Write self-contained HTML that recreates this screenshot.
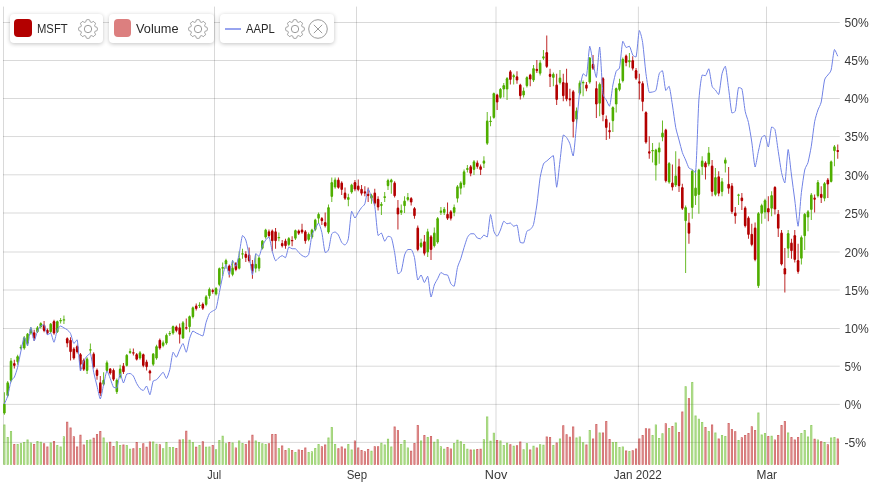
<!DOCTYPE html>
<html><head><meta charset="utf-8"><title>Chart</title>
<style>
html,body{margin:0;padding:0;background:#fff;}
body{width:872px;height:487px;position:relative;overflow:hidden;font-family:"Liberation Sans",sans-serif;}
.lg{will-change:transform;position:absolute;top:14px;height:29px;background:#fff;border-radius:4px;box-shadow:0 1px 4px rgba(0,0,0,.24);box-sizing:border-box;}
.lg span{position:absolute;top:8.2px;font-size:12.5px;color:#2a2a2a;line-height:15px;transform:scaleX(0.9);transform-origin:0 0;white-space:nowrap}
.lg i{position:absolute;display:block}
.lg .ic{position:absolute;top:2.5px}
</style></head><body>
<svg width="872" height="487" viewBox="0 0 872 487" style="position:absolute;left:0;top:0;will-change:transform">
<g stroke="rgba(0,0,0,0.15)" stroke-width="1">
<line x1="3" y1="22.50" x2="839.8" y2="22.50"/>
<line x1="3" y1="60.50" x2="839.8" y2="60.50"/>
<line x1="3" y1="98.50" x2="839.8" y2="98.50"/>
<line x1="3" y1="136.55" x2="839.8" y2="136.55"/>
<line x1="3" y1="174.80" x2="839.8" y2="174.80"/>
<line x1="3" y1="213.00" x2="839.8" y2="213.00"/>
<line x1="3" y1="252.00" x2="839.8" y2="252.00"/>
<line x1="3" y1="290.00" x2="839.8" y2="290.00"/>
<line x1="3" y1="328.50" x2="839.8" y2="328.50"/>
<line x1="3" y1="366.20" x2="839.8" y2="366.20"/>
<line x1="3" y1="404.40" x2="839.8" y2="404.40"/>
<line x1="3" y1="442.40" x2="839.8" y2="442.40"/>
<line x1="3.5" y1="6.6" x2="3.5" y2="464.7"/>
<line x1="214.5" y1="6.6" x2="214.5" y2="464.7"/>
<line x1="356.5" y1="6.6" x2="356.5" y2="464.7"/>
<line x1="496.0" y1="6.6" x2="496.0" y2="464.7"/>
<line x1="638.4" y1="6.6" x2="638.4" y2="464.7"/>
<line x1="766.5" y1="6.6" x2="766.5" y2="464.7"/>
</g>
<rect x="3.75" y="424.90" width="1.3" height="39.50" fill="#4fae00" fill-opacity="0.3" stroke="#4fae00" stroke-opacity="0.55" stroke-width="0.8"/>
<rect x="7.06" y="437.40" width="1.3" height="27.00" fill="#4fae00" fill-opacity="0.3" stroke="#4fae00" stroke-opacity="0.55" stroke-width="0.8"/>
<rect x="10.36" y="431.40" width="1.3" height="33.00" fill="#4fae00" fill-opacity="0.3" stroke="#4fae00" stroke-opacity="0.55" stroke-width="0.8"/>
<rect x="13.67" y="444.40" width="1.3" height="20.00" fill="#b30000" fill-opacity="0.3" stroke="#b30000" stroke-opacity="0.55" stroke-width="0.8"/>
<rect x="16.98" y="444.40" width="1.3" height="20.00" fill="#4fae00" fill-opacity="0.3" stroke="#4fae00" stroke-opacity="0.55" stroke-width="0.8"/>
<rect x="20.29" y="443.40" width="1.3" height="21.00" fill="#4fae00" fill-opacity="0.3" stroke="#4fae00" stroke-opacity="0.55" stroke-width="0.8"/>
<rect x="23.59" y="442.40" width="1.3" height="22.00" fill="#4fae00" fill-opacity="0.3" stroke="#4fae00" stroke-opacity="0.55" stroke-width="0.8"/>
<rect x="26.90" y="439.90" width="1.3" height="24.50" fill="#4fae00" fill-opacity="0.3" stroke="#4fae00" stroke-opacity="0.55" stroke-width="0.8"/>
<rect x="30.21" y="442.90" width="1.3" height="21.50" fill="#4fae00" fill-opacity="0.3" stroke="#4fae00" stroke-opacity="0.55" stroke-width="0.8"/>
<rect x="33.51" y="444.40" width="1.3" height="20.00" fill="#b30000" fill-opacity="0.3" stroke="#b30000" stroke-opacity="0.55" stroke-width="0.8"/>
<rect x="36.82" y="441.40" width="1.3" height="23.00" fill="#4fae00" fill-opacity="0.3" stroke="#4fae00" stroke-opacity="0.55" stroke-width="0.8"/>
<rect x="40.13" y="442.15" width="1.3" height="22.25" fill="#4fae00" fill-opacity="0.3" stroke="#4fae00" stroke-opacity="0.55" stroke-width="0.8"/>
<rect x="43.43" y="443.65" width="1.3" height="20.75" fill="#b30000" fill-opacity="0.3" stroke="#b30000" stroke-opacity="0.55" stroke-width="0.8"/>
<rect x="46.74" y="446.90" width="1.3" height="17.50" fill="#b30000" fill-opacity="0.3" stroke="#b30000" stroke-opacity="0.55" stroke-width="0.8"/>
<rect x="50.05" y="442.90" width="1.3" height="21.50" fill="#4fae00" fill-opacity="0.3" stroke="#4fae00" stroke-opacity="0.55" stroke-width="0.8"/>
<rect x="53.35" y="441.40" width="1.3" height="23.00" fill="#b30000" fill-opacity="0.3" stroke="#b30000" stroke-opacity="0.55" stroke-width="0.8"/>
<rect x="56.66" y="445.40" width="1.3" height="19.00" fill="#4fae00" fill-opacity="0.3" stroke="#4fae00" stroke-opacity="0.55" stroke-width="0.8"/>
<rect x="59.97" y="446.90" width="1.3" height="17.50" fill="#4fae00" fill-opacity="0.3" stroke="#4fae00" stroke-opacity="0.55" stroke-width="0.8"/>
<rect x="63.28" y="436.65" width="1.3" height="27.75" fill="#4fae00" fill-opacity="0.3" stroke="#4fae00" stroke-opacity="0.55" stroke-width="0.8"/>
<rect x="66.58" y="422.15" width="1.3" height="42.25" fill="#b30000" fill-opacity="0.3" stroke="#b30000" stroke-opacity="0.55" stroke-width="0.8"/>
<rect x="69.89" y="427.90" width="1.3" height="36.50" fill="#b30000" fill-opacity="0.3" stroke="#b30000" stroke-opacity="0.55" stroke-width="0.8"/>
<rect x="73.20" y="436.65" width="1.3" height="27.75" fill="#b30000" fill-opacity="0.3" stroke="#b30000" stroke-opacity="0.55" stroke-width="0.8"/>
<rect x="76.50" y="446.90" width="1.3" height="17.50" fill="#b30000" fill-opacity="0.3" stroke="#b30000" stroke-opacity="0.55" stroke-width="0.8"/>
<rect x="79.81" y="435.15" width="1.3" height="29.25" fill="#b30000" fill-opacity="0.3" stroke="#b30000" stroke-opacity="0.55" stroke-width="0.8"/>
<rect x="83.12" y="444.90" width="1.3" height="19.50" fill="#b30000" fill-opacity="0.3" stroke="#b30000" stroke-opacity="0.55" stroke-width="0.8"/>
<rect x="86.42" y="440.40" width="1.3" height="24.00" fill="#4fae00" fill-opacity="0.3" stroke="#4fae00" stroke-opacity="0.55" stroke-width="0.8"/>
<rect x="89.73" y="439.90" width="1.3" height="24.50" fill="#4fae00" fill-opacity="0.3" stroke="#4fae00" stroke-opacity="0.55" stroke-width="0.8"/>
<rect x="93.04" y="438.15" width="1.3" height="26.25" fill="#b30000" fill-opacity="0.3" stroke="#b30000" stroke-opacity="0.55" stroke-width="0.8"/>
<rect x="96.35" y="434.40" width="1.3" height="30.00" fill="#b30000" fill-opacity="0.3" stroke="#b30000" stroke-opacity="0.55" stroke-width="0.8"/>
<rect x="99.65" y="431.40" width="1.3" height="33.00" fill="#b30000" fill-opacity="0.3" stroke="#b30000" stroke-opacity="0.55" stroke-width="0.8"/>
<rect x="102.96" y="437.90" width="1.3" height="26.50" fill="#4fae00" fill-opacity="0.3" stroke="#4fae00" stroke-opacity="0.55" stroke-width="0.8"/>
<rect x="106.27" y="442.90" width="1.3" height="21.50" fill="#4fae00" fill-opacity="0.3" stroke="#4fae00" stroke-opacity="0.55" stroke-width="0.8"/>
<rect x="109.57" y="442.15" width="1.3" height="22.25" fill="#b30000" fill-opacity="0.3" stroke="#b30000" stroke-opacity="0.55" stroke-width="0.8"/>
<rect x="112.88" y="446.40" width="1.3" height="18.00" fill="#b30000" fill-opacity="0.3" stroke="#b30000" stroke-opacity="0.55" stroke-width="0.8"/>
<rect x="116.19" y="441.65" width="1.3" height="22.75" fill="#4fae00" fill-opacity="0.3" stroke="#4fae00" stroke-opacity="0.55" stroke-width="0.8"/>
<rect x="119.50" y="445.40" width="1.3" height="19.00" fill="#4fae00" fill-opacity="0.3" stroke="#4fae00" stroke-opacity="0.55" stroke-width="0.8"/>
<rect x="122.80" y="444.90" width="1.3" height="19.50" fill="#b30000" fill-opacity="0.3" stroke="#b30000" stroke-opacity="0.55" stroke-width="0.8"/>
<rect x="126.11" y="445.40" width="1.3" height="19.00" fill="#4fae00" fill-opacity="0.3" stroke="#4fae00" stroke-opacity="0.55" stroke-width="0.8"/>
<rect x="129.42" y="449.15" width="1.3" height="15.25" fill="#4fae00" fill-opacity="0.3" stroke="#4fae00" stroke-opacity="0.55" stroke-width="0.8"/>
<rect x="132.72" y="448.65" width="1.3" height="15.75" fill="#b30000" fill-opacity="0.3" stroke="#b30000" stroke-opacity="0.55" stroke-width="0.8"/>
<rect x="136.03" y="442.40" width="1.3" height="22.00" fill="#b30000" fill-opacity="0.3" stroke="#b30000" stroke-opacity="0.55" stroke-width="0.8"/>
<rect x="139.34" y="448.40" width="1.3" height="16.00" fill="#4fae00" fill-opacity="0.3" stroke="#4fae00" stroke-opacity="0.55" stroke-width="0.8"/>
<rect x="142.64" y="443.65" width="1.3" height="20.75" fill="#b30000" fill-opacity="0.3" stroke="#b30000" stroke-opacity="0.55" stroke-width="0.8"/>
<rect x="145.95" y="447.15" width="1.3" height="17.25" fill="#b30000" fill-opacity="0.3" stroke="#b30000" stroke-opacity="0.55" stroke-width="0.8"/>
<rect x="149.26" y="441.90" width="1.3" height="22.50" fill="#b30000" fill-opacity="0.3" stroke="#b30000" stroke-opacity="0.55" stroke-width="0.8"/>
<rect x="152.56" y="441.90" width="1.3" height="22.50" fill="#4fae00" fill-opacity="0.3" stroke="#4fae00" stroke-opacity="0.55" stroke-width="0.8"/>
<rect x="155.87" y="444.15" width="1.3" height="20.25" fill="#4fae00" fill-opacity="0.3" stroke="#4fae00" stroke-opacity="0.55" stroke-width="0.8"/>
<rect x="159.18" y="444.65" width="1.3" height="19.75" fill="#b30000" fill-opacity="0.3" stroke="#b30000" stroke-opacity="0.55" stroke-width="0.8"/>
<rect x="162.49" y="448.65" width="1.3" height="15.75" fill="#4fae00" fill-opacity="0.3" stroke="#4fae00" stroke-opacity="0.55" stroke-width="0.8"/>
<rect x="165.79" y="442.40" width="1.3" height="22.00" fill="#4fae00" fill-opacity="0.3" stroke="#4fae00" stroke-opacity="0.55" stroke-width="0.8"/>
<rect x="169.10" y="447.40" width="1.3" height="17.00" fill="#4fae00" fill-opacity="0.3" stroke="#4fae00" stroke-opacity="0.55" stroke-width="0.8"/>
<rect x="172.41" y="447.40" width="1.3" height="17.00" fill="#4fae00" fill-opacity="0.3" stroke="#4fae00" stroke-opacity="0.55" stroke-width="0.8"/>
<rect x="175.71" y="448.40" width="1.3" height="16.00" fill="#b30000" fill-opacity="0.3" stroke="#b30000" stroke-opacity="0.55" stroke-width="0.8"/>
<rect x="179.02" y="439.90" width="1.3" height="24.50" fill="#b30000" fill-opacity="0.3" stroke="#b30000" stroke-opacity="0.55" stroke-width="0.8"/>
<rect x="182.33" y="439.65" width="1.3" height="24.75" fill="#4fae00" fill-opacity="0.3" stroke="#4fae00" stroke-opacity="0.55" stroke-width="0.8"/>
<rect x="185.63" y="431.15" width="1.3" height="33.25" fill="#b30000" fill-opacity="0.3" stroke="#b30000" stroke-opacity="0.55" stroke-width="0.8"/>
<rect x="188.94" y="440.15" width="1.3" height="24.25" fill="#4fae00" fill-opacity="0.3" stroke="#4fae00" stroke-opacity="0.55" stroke-width="0.8"/>
<rect x="192.25" y="442.40" width="1.3" height="22.00" fill="#4fae00" fill-opacity="0.3" stroke="#4fae00" stroke-opacity="0.55" stroke-width="0.8"/>
<rect x="195.56" y="447.15" width="1.3" height="17.25" fill="#b30000" fill-opacity="0.3" stroke="#b30000" stroke-opacity="0.55" stroke-width="0.8"/>
<rect x="198.86" y="445.40" width="1.3" height="19.00" fill="#4fae00" fill-opacity="0.3" stroke="#4fae00" stroke-opacity="0.55" stroke-width="0.8"/>
<rect x="202.17" y="441.65" width="1.3" height="22.75" fill="#b30000" fill-opacity="0.3" stroke="#b30000" stroke-opacity="0.55" stroke-width="0.8"/>
<rect x="205.48" y="447.15" width="1.3" height="17.25" fill="#4fae00" fill-opacity="0.3" stroke="#4fae00" stroke-opacity="0.55" stroke-width="0.8"/>
<rect x="208.78" y="446.90" width="1.3" height="17.50" fill="#4fae00" fill-opacity="0.3" stroke="#4fae00" stroke-opacity="0.55" stroke-width="0.8"/>
<rect x="212.09" y="445.40" width="1.3" height="19.00" fill="#b30000" fill-opacity="0.3" stroke="#b30000" stroke-opacity="0.55" stroke-width="0.8"/>
<rect x="215.40" y="449.65" width="1.3" height="14.75" fill="#4fae00" fill-opacity="0.3" stroke="#4fae00" stroke-opacity="0.55" stroke-width="0.8"/>
<rect x="218.70" y="440.40" width="1.3" height="24.00" fill="#4fae00" fill-opacity="0.3" stroke="#4fae00" stroke-opacity="0.55" stroke-width="0.8"/>
<rect x="222.01" y="436.15" width="1.3" height="28.25" fill="#4fae00" fill-opacity="0.3" stroke="#4fae00" stroke-opacity="0.55" stroke-width="0.8"/>
<rect x="225.32" y="443.65" width="1.3" height="20.75" fill="#4fae00" fill-opacity="0.3" stroke="#4fae00" stroke-opacity="0.55" stroke-width="0.8"/>
<rect x="228.63" y="442.40" width="1.3" height="22.00" fill="#b30000" fill-opacity="0.3" stroke="#b30000" stroke-opacity="0.55" stroke-width="0.8"/>
<rect x="231.93" y="442.90" width="1.3" height="21.50" fill="#4fae00" fill-opacity="0.3" stroke="#4fae00" stroke-opacity="0.55" stroke-width="0.8"/>
<rect x="235.24" y="447.90" width="1.3" height="16.50" fill="#b30000" fill-opacity="0.3" stroke="#b30000" stroke-opacity="0.55" stroke-width="0.8"/>
<rect x="238.55" y="440.90" width="1.3" height="23.50" fill="#4fae00" fill-opacity="0.3" stroke="#4fae00" stroke-opacity="0.55" stroke-width="0.8"/>
<rect x="241.85" y="443.40" width="1.3" height="21.00" fill="#4fae00" fill-opacity="0.3" stroke="#4fae00" stroke-opacity="0.55" stroke-width="0.8"/>
<rect x="245.16" y="444.40" width="1.3" height="20.00" fill="#b30000" fill-opacity="0.3" stroke="#b30000" stroke-opacity="0.55" stroke-width="0.8"/>
<rect x="248.47" y="440.90" width="1.3" height="23.50" fill="#b30000" fill-opacity="0.3" stroke="#b30000" stroke-opacity="0.55" stroke-width="0.8"/>
<rect x="251.78" y="435.15" width="1.3" height="29.25" fill="#b30000" fill-opacity="0.3" stroke="#b30000" stroke-opacity="0.55" stroke-width="0.8"/>
<rect x="255.08" y="440.90" width="1.3" height="23.50" fill="#4fae00" fill-opacity="0.3" stroke="#4fae00" stroke-opacity="0.55" stroke-width="0.8"/>
<rect x="258.39" y="442.40" width="1.3" height="22.00" fill="#4fae00" fill-opacity="0.3" stroke="#4fae00" stroke-opacity="0.55" stroke-width="0.8"/>
<rect x="261.70" y="443.65" width="1.3" height="20.75" fill="#4fae00" fill-opacity="0.3" stroke="#4fae00" stroke-opacity="0.55" stroke-width="0.8"/>
<rect x="265.00" y="444.40" width="1.3" height="20.00" fill="#4fae00" fill-opacity="0.3" stroke="#4fae00" stroke-opacity="0.55" stroke-width="0.8"/>
<rect x="268.31" y="443.65" width="1.3" height="20.75" fill="#b30000" fill-opacity="0.3" stroke="#b30000" stroke-opacity="0.55" stroke-width="0.8"/>
<rect x="271.62" y="434.40" width="1.3" height="30.00" fill="#b30000" fill-opacity="0.3" stroke="#b30000" stroke-opacity="0.55" stroke-width="0.8"/>
<rect x="274.92" y="434.40" width="1.3" height="30.00" fill="#b30000" fill-opacity="0.3" stroke="#b30000" stroke-opacity="0.55" stroke-width="0.8"/>
<rect x="278.23" y="448.40" width="1.3" height="16.00" fill="#4fae00" fill-opacity="0.3" stroke="#4fae00" stroke-opacity="0.55" stroke-width="0.8"/>
<rect x="281.54" y="445.90" width="1.3" height="18.50" fill="#b30000" fill-opacity="0.3" stroke="#b30000" stroke-opacity="0.55" stroke-width="0.8"/>
<rect x="284.84" y="450.40" width="1.3" height="14.00" fill="#b30000" fill-opacity="0.3" stroke="#b30000" stroke-opacity="0.55" stroke-width="0.8"/>
<rect x="288.15" y="448.65" width="1.3" height="15.75" fill="#4fae00" fill-opacity="0.3" stroke="#4fae00" stroke-opacity="0.55" stroke-width="0.8"/>
<rect x="291.46" y="450.40" width="1.3" height="14.00" fill="#b30000" fill-opacity="0.3" stroke="#b30000" stroke-opacity="0.55" stroke-width="0.8"/>
<rect x="294.77" y="452.40" width="1.3" height="12.00" fill="#4fae00" fill-opacity="0.3" stroke="#4fae00" stroke-opacity="0.55" stroke-width="0.8"/>
<rect x="298.07" y="449.90" width="1.3" height="14.50" fill="#b30000" fill-opacity="0.3" stroke="#b30000" stroke-opacity="0.55" stroke-width="0.8"/>
<rect x="301.38" y="450.40" width="1.3" height="14.00" fill="#b30000" fill-opacity="0.3" stroke="#b30000" stroke-opacity="0.55" stroke-width="0.8"/>
<rect x="304.69" y="447.90" width="1.3" height="16.50" fill="#b30000" fill-opacity="0.3" stroke="#b30000" stroke-opacity="0.55" stroke-width="0.8"/>
<rect x="307.99" y="452.40" width="1.3" height="12.00" fill="#4fae00" fill-opacity="0.3" stroke="#4fae00" stroke-opacity="0.55" stroke-width="0.8"/>
<rect x="311.30" y="451.65" width="1.3" height="12.75" fill="#4fae00" fill-opacity="0.3" stroke="#4fae00" stroke-opacity="0.55" stroke-width="0.8"/>
<rect x="314.61" y="448.40" width="1.3" height="16.00" fill="#4fae00" fill-opacity="0.3" stroke="#4fae00" stroke-opacity="0.55" stroke-width="0.8"/>
<rect x="317.92" y="444.40" width="1.3" height="20.00" fill="#4fae00" fill-opacity="0.3" stroke="#4fae00" stroke-opacity="0.55" stroke-width="0.8"/>
<rect x="321.22" y="446.65" width="1.3" height="17.75" fill="#b30000" fill-opacity="0.3" stroke="#b30000" stroke-opacity="0.55" stroke-width="0.8"/>
<rect x="324.53" y="444.90" width="1.3" height="19.50" fill="#b30000" fill-opacity="0.3" stroke="#b30000" stroke-opacity="0.55" stroke-width="0.8"/>
<rect x="327.84" y="437.90" width="1.3" height="26.50" fill="#4fae00" fill-opacity="0.3" stroke="#4fae00" stroke-opacity="0.55" stroke-width="0.8"/>
<rect x="331.14" y="427.40" width="1.3" height="37.00" fill="#4fae00" fill-opacity="0.3" stroke="#4fae00" stroke-opacity="0.55" stroke-width="0.8"/>
<rect x="334.45" y="444.40" width="1.3" height="20.00" fill="#4fae00" fill-opacity="0.3" stroke="#4fae00" stroke-opacity="0.55" stroke-width="0.8"/>
<rect x="337.76" y="448.65" width="1.3" height="15.75" fill="#b30000" fill-opacity="0.3" stroke="#b30000" stroke-opacity="0.55" stroke-width="0.8"/>
<rect x="341.06" y="446.90" width="1.3" height="17.50" fill="#b30000" fill-opacity="0.3" stroke="#b30000" stroke-opacity="0.55" stroke-width="0.8"/>
<rect x="344.37" y="448.90" width="1.3" height="15.50" fill="#b30000" fill-opacity="0.3" stroke="#b30000" stroke-opacity="0.55" stroke-width="0.8"/>
<rect x="347.68" y="444.40" width="1.3" height="20.00" fill="#4fae00" fill-opacity="0.3" stroke="#4fae00" stroke-opacity="0.55" stroke-width="0.8"/>
<rect x="350.99" y="449.90" width="1.3" height="14.50" fill="#4fae00" fill-opacity="0.3" stroke="#4fae00" stroke-opacity="0.55" stroke-width="0.8"/>
<rect x="354.29" y="440.90" width="1.3" height="23.50" fill="#b30000" fill-opacity="0.3" stroke="#b30000" stroke-opacity="0.55" stroke-width="0.8"/>
<rect x="357.60" y="447.90" width="1.3" height="16.50" fill="#b30000" fill-opacity="0.3" stroke="#b30000" stroke-opacity="0.55" stroke-width="0.8"/>
<rect x="360.91" y="450.40" width="1.3" height="14.00" fill="#b30000" fill-opacity="0.3" stroke="#b30000" stroke-opacity="0.55" stroke-width="0.8"/>
<rect x="364.21" y="451.65" width="1.3" height="12.75" fill="#b30000" fill-opacity="0.3" stroke="#b30000" stroke-opacity="0.55" stroke-width="0.8"/>
<rect x="367.52" y="449.40" width="1.3" height="15.00" fill="#b30000" fill-opacity="0.3" stroke="#b30000" stroke-opacity="0.55" stroke-width="0.8"/>
<rect x="370.83" y="451.15" width="1.3" height="13.25" fill="#4fae00" fill-opacity="0.3" stroke="#4fae00" stroke-opacity="0.55" stroke-width="0.8"/>
<rect x="374.13" y="446.65" width="1.3" height="17.75" fill="#b30000" fill-opacity="0.3" stroke="#b30000" stroke-opacity="0.55" stroke-width="0.8"/>
<rect x="377.44" y="446.65" width="1.3" height="17.75" fill="#b30000" fill-opacity="0.3" stroke="#b30000" stroke-opacity="0.55" stroke-width="0.8"/>
<rect x="380.75" y="443.15" width="1.3" height="21.25" fill="#4fae00" fill-opacity="0.3" stroke="#4fae00" stroke-opacity="0.55" stroke-width="0.8"/>
<rect x="384.06" y="444.90" width="1.3" height="19.50" fill="#4fae00" fill-opacity="0.3" stroke="#4fae00" stroke-opacity="0.55" stroke-width="0.8"/>
<rect x="387.36" y="439.15" width="1.3" height="25.25" fill="#4fae00" fill-opacity="0.3" stroke="#4fae00" stroke-opacity="0.55" stroke-width="0.8"/>
<rect x="390.67" y="446.90" width="1.3" height="17.50" fill="#4fae00" fill-opacity="0.3" stroke="#4fae00" stroke-opacity="0.55" stroke-width="0.8"/>
<rect x="393.98" y="426.90" width="1.3" height="37.50" fill="#b30000" fill-opacity="0.3" stroke="#b30000" stroke-opacity="0.55" stroke-width="0.8"/>
<rect x="397.28" y="430.40" width="1.3" height="34.00" fill="#b30000" fill-opacity="0.3" stroke="#b30000" stroke-opacity="0.55" stroke-width="0.8"/>
<rect x="400.59" y="444.40" width="1.3" height="20.00" fill="#4fae00" fill-opacity="0.3" stroke="#4fae00" stroke-opacity="0.55" stroke-width="0.8"/>
<rect x="403.90" y="440.40" width="1.3" height="24.00" fill="#4fae00" fill-opacity="0.3" stroke="#4fae00" stroke-opacity="0.55" stroke-width="0.8"/>
<rect x="407.20" y="447.90" width="1.3" height="16.50" fill="#4fae00" fill-opacity="0.3" stroke="#4fae00" stroke-opacity="0.55" stroke-width="0.8"/>
<rect x="410.51" y="451.15" width="1.3" height="13.25" fill="#b30000" fill-opacity="0.3" stroke="#b30000" stroke-opacity="0.55" stroke-width="0.8"/>
<rect x="413.82" y="443.40" width="1.3" height="21.00" fill="#b30000" fill-opacity="0.3" stroke="#b30000" stroke-opacity="0.55" stroke-width="0.8"/>
<rect x="417.12" y="425.40" width="1.3" height="39.00" fill="#b30000" fill-opacity="0.3" stroke="#b30000" stroke-opacity="0.55" stroke-width="0.8"/>
<rect x="420.43" y="440.90" width="1.3" height="23.50" fill="#4fae00" fill-opacity="0.3" stroke="#4fae00" stroke-opacity="0.55" stroke-width="0.8"/>
<rect x="423.74" y="435.40" width="1.3" height="29.00" fill="#b30000" fill-opacity="0.3" stroke="#b30000" stroke-opacity="0.55" stroke-width="0.8"/>
<rect x="427.05" y="437.40" width="1.3" height="27.00" fill="#4fae00" fill-opacity="0.3" stroke="#4fae00" stroke-opacity="0.55" stroke-width="0.8"/>
<rect x="430.35" y="436.40" width="1.3" height="28.00" fill="#b30000" fill-opacity="0.3" stroke="#b30000" stroke-opacity="0.55" stroke-width="0.8"/>
<rect x="433.66" y="442.15" width="1.3" height="22.25" fill="#4fae00" fill-opacity="0.3" stroke="#4fae00" stroke-opacity="0.55" stroke-width="0.8"/>
<rect x="436.97" y="439.65" width="1.3" height="24.75" fill="#4fae00" fill-opacity="0.3" stroke="#4fae00" stroke-opacity="0.55" stroke-width="0.8"/>
<rect x="440.27" y="446.65" width="1.3" height="17.75" fill="#4fae00" fill-opacity="0.3" stroke="#4fae00" stroke-opacity="0.55" stroke-width="0.8"/>
<rect x="443.58" y="449.15" width="1.3" height="15.25" fill="#4fae00" fill-opacity="0.3" stroke="#4fae00" stroke-opacity="0.55" stroke-width="0.8"/>
<rect x="446.89" y="447.40" width="1.3" height="17.00" fill="#b30000" fill-opacity="0.3" stroke="#b30000" stroke-opacity="0.55" stroke-width="0.8"/>
<rect x="450.19" y="448.90" width="1.3" height="15.50" fill="#b30000" fill-opacity="0.3" stroke="#b30000" stroke-opacity="0.55" stroke-width="0.8"/>
<rect x="453.50" y="443.40" width="1.3" height="21.00" fill="#4fae00" fill-opacity="0.3" stroke="#4fae00" stroke-opacity="0.55" stroke-width="0.8"/>
<rect x="456.81" y="440.15" width="1.3" height="24.25" fill="#4fae00" fill-opacity="0.3" stroke="#4fae00" stroke-opacity="0.55" stroke-width="0.8"/>
<rect x="460.12" y="441.65" width="1.3" height="22.75" fill="#4fae00" fill-opacity="0.3" stroke="#4fae00" stroke-opacity="0.55" stroke-width="0.8"/>
<rect x="463.42" y="444.40" width="1.3" height="20.00" fill="#4fae00" fill-opacity="0.3" stroke="#4fae00" stroke-opacity="0.55" stroke-width="0.8"/>
<rect x="466.73" y="449.15" width="1.3" height="15.25" fill="#4fae00" fill-opacity="0.3" stroke="#4fae00" stroke-opacity="0.55" stroke-width="0.8"/>
<rect x="470.04" y="449.90" width="1.3" height="14.50" fill="#b30000" fill-opacity="0.3" stroke="#b30000" stroke-opacity="0.55" stroke-width="0.8"/>
<rect x="473.34" y="449.90" width="1.3" height="14.50" fill="#4fae00" fill-opacity="0.3" stroke="#4fae00" stroke-opacity="0.55" stroke-width="0.8"/>
<rect x="476.65" y="449.40" width="1.3" height="15.00" fill="#b30000" fill-opacity="0.3" stroke="#b30000" stroke-opacity="0.55" stroke-width="0.8"/>
<rect x="479.96" y="449.15" width="1.3" height="15.25" fill="#b30000" fill-opacity="0.3" stroke="#b30000" stroke-opacity="0.55" stroke-width="0.8"/>
<rect x="483.26" y="439.65" width="1.3" height="24.75" fill="#4fae00" fill-opacity="0.3" stroke="#4fae00" stroke-opacity="0.55" stroke-width="0.8"/>
<rect x="486.57" y="416.90" width="1.3" height="47.50" fill="#4fae00" fill-opacity="0.3" stroke="#4fae00" stroke-opacity="0.55" stroke-width="0.8"/>
<rect x="489.88" y="441.15" width="1.3" height="23.25" fill="#4fae00" fill-opacity="0.3" stroke="#4fae00" stroke-opacity="0.55" stroke-width="0.8"/>
<rect x="493.19" y="433.15" width="1.3" height="31.25" fill="#4fae00" fill-opacity="0.3" stroke="#4fae00" stroke-opacity="0.55" stroke-width="0.8"/>
<rect x="496.49" y="440.40" width="1.3" height="24.00" fill="#b30000" fill-opacity="0.3" stroke="#b30000" stroke-opacity="0.55" stroke-width="0.8"/>
<rect x="499.80" y="440.90" width="1.3" height="23.50" fill="#4fae00" fill-opacity="0.3" stroke="#4fae00" stroke-opacity="0.55" stroke-width="0.8"/>
<rect x="503.11" y="445.40" width="1.3" height="19.00" fill="#4fae00" fill-opacity="0.3" stroke="#4fae00" stroke-opacity="0.55" stroke-width="0.8"/>
<rect x="506.41" y="443.15" width="1.3" height="21.25" fill="#4fae00" fill-opacity="0.3" stroke="#4fae00" stroke-opacity="0.55" stroke-width="0.8"/>
<rect x="509.72" y="444.65" width="1.3" height="19.75" fill="#b30000" fill-opacity="0.3" stroke="#b30000" stroke-opacity="0.55" stroke-width="0.8"/>
<rect x="513.03" y="446.15" width="1.3" height="18.25" fill="#4fae00" fill-opacity="0.3" stroke="#4fae00" stroke-opacity="0.55" stroke-width="0.8"/>
<rect x="516.34" y="445.65" width="1.3" height="18.75" fill="#b30000" fill-opacity="0.3" stroke="#b30000" stroke-opacity="0.55" stroke-width="0.8"/>
<rect x="519.64" y="441.90" width="1.3" height="22.50" fill="#b30000" fill-opacity="0.3" stroke="#b30000" stroke-opacity="0.55" stroke-width="0.8"/>
<rect x="522.95" y="449.65" width="1.3" height="14.75" fill="#4fae00" fill-opacity="0.3" stroke="#4fae00" stroke-opacity="0.55" stroke-width="0.8"/>
<rect x="526.26" y="443.40" width="1.3" height="21.00" fill="#4fae00" fill-opacity="0.3" stroke="#4fae00" stroke-opacity="0.55" stroke-width="0.8"/>
<rect x="529.56" y="449.90" width="1.3" height="14.50" fill="#b30000" fill-opacity="0.3" stroke="#b30000" stroke-opacity="0.55" stroke-width="0.8"/>
<rect x="532.87" y="446.15" width="1.3" height="18.25" fill="#4fae00" fill-opacity="0.3" stroke="#4fae00" stroke-opacity="0.55" stroke-width="0.8"/>
<rect x="536.18" y="447.90" width="1.3" height="16.50" fill="#b30000" fill-opacity="0.3" stroke="#b30000" stroke-opacity="0.55" stroke-width="0.8"/>
<rect x="539.48" y="444.65" width="1.3" height="19.75" fill="#4fae00" fill-opacity="0.3" stroke="#4fae00" stroke-opacity="0.55" stroke-width="0.8"/>
<rect x="542.79" y="445.15" width="1.3" height="19.25" fill="#4fae00" fill-opacity="0.3" stroke="#4fae00" stroke-opacity="0.55" stroke-width="0.8"/>
<rect x="546.10" y="436.90" width="1.3" height="27.50" fill="#b30000" fill-opacity="0.3" stroke="#b30000" stroke-opacity="0.55" stroke-width="0.8"/>
<rect x="549.40" y="437.40" width="1.3" height="27.00" fill="#b30000" fill-opacity="0.3" stroke="#b30000" stroke-opacity="0.55" stroke-width="0.8"/>
<rect x="552.71" y="445.40" width="1.3" height="19.00" fill="#4fae00" fill-opacity="0.3" stroke="#4fae00" stroke-opacity="0.55" stroke-width="0.8"/>
<rect x="556.02" y="442.90" width="1.3" height="21.50" fill="#b30000" fill-opacity="0.3" stroke="#b30000" stroke-opacity="0.55" stroke-width="0.8"/>
<rect x="559.33" y="438.90" width="1.3" height="25.50" fill="#4fae00" fill-opacity="0.3" stroke="#4fae00" stroke-opacity="0.55" stroke-width="0.8"/>
<rect x="562.63" y="425.65" width="1.3" height="38.75" fill="#b30000" fill-opacity="0.3" stroke="#b30000" stroke-opacity="0.55" stroke-width="0.8"/>
<rect x="565.94" y="434.65" width="1.3" height="29.75" fill="#b30000" fill-opacity="0.3" stroke="#b30000" stroke-opacity="0.55" stroke-width="0.8"/>
<rect x="569.25" y="437.15" width="1.3" height="27.25" fill="#b30000" fill-opacity="0.3" stroke="#b30000" stroke-opacity="0.55" stroke-width="0.8"/>
<rect x="572.55" y="426.90" width="1.3" height="37.50" fill="#b30000" fill-opacity="0.3" stroke="#b30000" stroke-opacity="0.55" stroke-width="0.8"/>
<rect x="575.86" y="437.90" width="1.3" height="26.50" fill="#4fae00" fill-opacity="0.3" stroke="#4fae00" stroke-opacity="0.55" stroke-width="0.8"/>
<rect x="579.17" y="436.90" width="1.3" height="27.50" fill="#4fae00" fill-opacity="0.3" stroke="#4fae00" stroke-opacity="0.55" stroke-width="0.8"/>
<rect x="582.48" y="442.65" width="1.3" height="21.75" fill="#4fae00" fill-opacity="0.3" stroke="#4fae00" stroke-opacity="0.55" stroke-width="0.8"/>
<rect x="585.78" y="444.90" width="1.3" height="19.50" fill="#b30000" fill-opacity="0.3" stroke="#b30000" stroke-opacity="0.55" stroke-width="0.8"/>
<rect x="589.09" y="430.40" width="1.3" height="34.00" fill="#4fae00" fill-opacity="0.3" stroke="#4fae00" stroke-opacity="0.55" stroke-width="0.8"/>
<rect x="592.40" y="438.90" width="1.3" height="25.50" fill="#b30000" fill-opacity="0.3" stroke="#b30000" stroke-opacity="0.55" stroke-width="0.8"/>
<rect x="595.70" y="424.40" width="1.3" height="40.00" fill="#b30000" fill-opacity="0.3" stroke="#b30000" stroke-opacity="0.55" stroke-width="0.8"/>
<rect x="599.01" y="432.90" width="1.3" height="31.50" fill="#4fae00" fill-opacity="0.3" stroke="#4fae00" stroke-opacity="0.55" stroke-width="0.8"/>
<rect x="602.32" y="432.90" width="1.3" height="31.50" fill="#b30000" fill-opacity="0.3" stroke="#b30000" stroke-opacity="0.55" stroke-width="0.8"/>
<rect x="605.62" y="421.40" width="1.3" height="43.00" fill="#b30000" fill-opacity="0.3" stroke="#b30000" stroke-opacity="0.55" stroke-width="0.8"/>
<rect x="608.93" y="439.40" width="1.3" height="25.00" fill="#b30000" fill-opacity="0.3" stroke="#b30000" stroke-opacity="0.55" stroke-width="0.8"/>
<rect x="612.24" y="442.40" width="1.3" height="22.00" fill="#4fae00" fill-opacity="0.3" stroke="#4fae00" stroke-opacity="0.55" stroke-width="0.8"/>
<rect x="615.54" y="442.40" width="1.3" height="22.00" fill="#4fae00" fill-opacity="0.3" stroke="#4fae00" stroke-opacity="0.55" stroke-width="0.8"/>
<rect x="618.85" y="447.40" width="1.3" height="17.00" fill="#4fae00" fill-opacity="0.3" stroke="#4fae00" stroke-opacity="0.55" stroke-width="0.8"/>
<rect x="622.16" y="446.90" width="1.3" height="17.50" fill="#4fae00" fill-opacity="0.3" stroke="#4fae00" stroke-opacity="0.55" stroke-width="0.8"/>
<rect x="625.47" y="450.90" width="1.3" height="13.50" fill="#b30000" fill-opacity="0.3" stroke="#b30000" stroke-opacity="0.55" stroke-width="0.8"/>
<rect x="628.77" y="451.40" width="1.3" height="13.00" fill="#4fae00" fill-opacity="0.3" stroke="#4fae00" stroke-opacity="0.55" stroke-width="0.8"/>
<rect x="632.08" y="450.65" width="1.3" height="13.75" fill="#b30000" fill-opacity="0.3" stroke="#b30000" stroke-opacity="0.55" stroke-width="0.8"/>
<rect x="635.39" y="448.90" width="1.3" height="15.50" fill="#b30000" fill-opacity="0.3" stroke="#b30000" stroke-opacity="0.55" stroke-width="0.8"/>
<rect x="638.69" y="438.90" width="1.3" height="25.50" fill="#b30000" fill-opacity="0.3" stroke="#b30000" stroke-opacity="0.55" stroke-width="0.8"/>
<rect x="642.00" y="435.40" width="1.3" height="29.00" fill="#b30000" fill-opacity="0.3" stroke="#b30000" stroke-opacity="0.55" stroke-width="0.8"/>
<rect x="645.31" y="428.65" width="1.3" height="35.75" fill="#b30000" fill-opacity="0.3" stroke="#b30000" stroke-opacity="0.55" stroke-width="0.8"/>
<rect x="648.62" y="428.90" width="1.3" height="35.50" fill="#b30000" fill-opacity="0.3" stroke="#b30000" stroke-opacity="0.55" stroke-width="0.8"/>
<rect x="651.92" y="435.40" width="1.3" height="29.00" fill="#4fae00" fill-opacity="0.3" stroke="#4fae00" stroke-opacity="0.55" stroke-width="0.8"/>
<rect x="655.23" y="424.90" width="1.3" height="39.50" fill="#4fae00" fill-opacity="0.3" stroke="#4fae00" stroke-opacity="0.55" stroke-width="0.8"/>
<rect x="658.54" y="438.40" width="1.3" height="26.00" fill="#4fae00" fill-opacity="0.3" stroke="#4fae00" stroke-opacity="0.55" stroke-width="0.8"/>
<rect x="661.84" y="433.65" width="1.3" height="30.75" fill="#4fae00" fill-opacity="0.3" stroke="#4fae00" stroke-opacity="0.55" stroke-width="0.8"/>
<rect x="665.15" y="423.65" width="1.3" height="40.75" fill="#b30000" fill-opacity="0.3" stroke="#b30000" stroke-opacity="0.55" stroke-width="0.8"/>
<rect x="668.46" y="428.40" width="1.3" height="36.00" fill="#4fae00" fill-opacity="0.3" stroke="#4fae00" stroke-opacity="0.55" stroke-width="0.8"/>
<rect x="671.76" y="426.40" width="1.3" height="38.00" fill="#b30000" fill-opacity="0.3" stroke="#b30000" stroke-opacity="0.55" stroke-width="0.8"/>
<rect x="675.07" y="422.90" width="1.3" height="41.50" fill="#4fae00" fill-opacity="0.3" stroke="#4fae00" stroke-opacity="0.55" stroke-width="0.8"/>
<rect x="678.38" y="432.40" width="1.3" height="32.00" fill="#b30000" fill-opacity="0.3" stroke="#b30000" stroke-opacity="0.55" stroke-width="0.8"/>
<rect x="681.68" y="411.90" width="1.3" height="52.50" fill="#b30000" fill-opacity="0.3" stroke="#b30000" stroke-opacity="0.55" stroke-width="0.8"/>
<rect x="684.99" y="386.65" width="1.3" height="77.75" fill="#4fae00" fill-opacity="0.3" stroke="#4fae00" stroke-opacity="0.55" stroke-width="0.8"/>
<rect x="688.30" y="398.40" width="1.3" height="66.00" fill="#b30000" fill-opacity="0.3" stroke="#b30000" stroke-opacity="0.55" stroke-width="0.8"/>
<rect x="691.61" y="382.40" width="1.3" height="82.00" fill="#4fae00" fill-opacity="0.3" stroke="#4fae00" stroke-opacity="0.55" stroke-width="0.8"/>
<rect x="694.91" y="415.90" width="1.3" height="48.50" fill="#4fae00" fill-opacity="0.3" stroke="#4fae00" stroke-opacity="0.55" stroke-width="0.8"/>
<rect x="698.22" y="419.15" width="1.3" height="45.25" fill="#4fae00" fill-opacity="0.3" stroke="#4fae00" stroke-opacity="0.55" stroke-width="0.8"/>
<rect x="701.53" y="422.40" width="1.3" height="42.00" fill="#4fae00" fill-opacity="0.3" stroke="#4fae00" stroke-opacity="0.55" stroke-width="0.8"/>
<rect x="704.83" y="427.40" width="1.3" height="37.00" fill="#b30000" fill-opacity="0.3" stroke="#b30000" stroke-opacity="0.55" stroke-width="0.8"/>
<rect x="708.14" y="431.40" width="1.3" height="33.00" fill="#4fae00" fill-opacity="0.3" stroke="#4fae00" stroke-opacity="0.55" stroke-width="0.8"/>
<rect x="711.45" y="424.90" width="1.3" height="39.50" fill="#b30000" fill-opacity="0.3" stroke="#b30000" stroke-opacity="0.55" stroke-width="0.8"/>
<rect x="714.75" y="432.90" width="1.3" height="31.50" fill="#4fae00" fill-opacity="0.3" stroke="#4fae00" stroke-opacity="0.55" stroke-width="0.8"/>
<rect x="718.06" y="438.90" width="1.3" height="25.50" fill="#b30000" fill-opacity="0.3" stroke="#b30000" stroke-opacity="0.55" stroke-width="0.8"/>
<rect x="721.37" y="435.40" width="1.3" height="29.00" fill="#4fae00" fill-opacity="0.3" stroke="#4fae00" stroke-opacity="0.55" stroke-width="0.8"/>
<rect x="724.68" y="436.40" width="1.3" height="28.00" fill="#4fae00" fill-opacity="0.3" stroke="#4fae00" stroke-opacity="0.55" stroke-width="0.8"/>
<rect x="727.98" y="423.40" width="1.3" height="41.00" fill="#b30000" fill-opacity="0.3" stroke="#b30000" stroke-opacity="0.55" stroke-width="0.8"/>
<rect x="731.29" y="429.40" width="1.3" height="35.00" fill="#b30000" fill-opacity="0.3" stroke="#b30000" stroke-opacity="0.55" stroke-width="0.8"/>
<rect x="734.60" y="431.65" width="1.3" height="32.75" fill="#b30000" fill-opacity="0.3" stroke="#b30000" stroke-opacity="0.55" stroke-width="0.8"/>
<rect x="737.90" y="440.40" width="1.3" height="24.00" fill="#4fae00" fill-opacity="0.3" stroke="#4fae00" stroke-opacity="0.55" stroke-width="0.8"/>
<rect x="741.21" y="437.65" width="1.3" height="26.75" fill="#b30000" fill-opacity="0.3" stroke="#b30000" stroke-opacity="0.55" stroke-width="0.8"/>
<rect x="744.52" y="435.40" width="1.3" height="29.00" fill="#b30000" fill-opacity="0.3" stroke="#b30000" stroke-opacity="0.55" stroke-width="0.8"/>
<rect x="747.82" y="433.40" width="1.3" height="31.00" fill="#b30000" fill-opacity="0.3" stroke="#b30000" stroke-opacity="0.55" stroke-width="0.8"/>
<rect x="751.13" y="426.65" width="1.3" height="37.75" fill="#b30000" fill-opacity="0.3" stroke="#b30000" stroke-opacity="0.55" stroke-width="0.8"/>
<rect x="754.44" y="430.40" width="1.3" height="34.00" fill="#b30000" fill-opacity="0.3" stroke="#b30000" stroke-opacity="0.55" stroke-width="0.8"/>
<rect x="757.75" y="412.90" width="1.3" height="51.50" fill="#4fae00" fill-opacity="0.3" stroke="#4fae00" stroke-opacity="0.55" stroke-width="0.8"/>
<rect x="761.05" y="434.90" width="1.3" height="29.50" fill="#4fae00" fill-opacity="0.3" stroke="#4fae00" stroke-opacity="0.55" stroke-width="0.8"/>
<rect x="764.36" y="433.40" width="1.3" height="31.00" fill="#4fae00" fill-opacity="0.3" stroke="#4fae00" stroke-opacity="0.55" stroke-width="0.8"/>
<rect x="767.67" y="436.40" width="1.3" height="28.00" fill="#b30000" fill-opacity="0.3" stroke="#b30000" stroke-opacity="0.55" stroke-width="0.8"/>
<rect x="770.97" y="436.15" width="1.3" height="28.25" fill="#4fae00" fill-opacity="0.3" stroke="#4fae00" stroke-opacity="0.55" stroke-width="0.8"/>
<rect x="774.28" y="439.90" width="1.3" height="24.50" fill="#b30000" fill-opacity="0.3" stroke="#b30000" stroke-opacity="0.55" stroke-width="0.8"/>
<rect x="777.59" y="435.40" width="1.3" height="29.00" fill="#b30000" fill-opacity="0.3" stroke="#b30000" stroke-opacity="0.55" stroke-width="0.8"/>
<rect x="780.89" y="425.40" width="1.3" height="39.00" fill="#b30000" fill-opacity="0.3" stroke="#b30000" stroke-opacity="0.55" stroke-width="0.8"/>
<rect x="784.20" y="421.40" width="1.3" height="43.00" fill="#b30000" fill-opacity="0.3" stroke="#b30000" stroke-opacity="0.55" stroke-width="0.8"/>
<rect x="787.51" y="432.90" width="1.3" height="31.50" fill="#4fae00" fill-opacity="0.3" stroke="#4fae00" stroke-opacity="0.55" stroke-width="0.8"/>
<rect x="790.82" y="437.40" width="1.3" height="27.00" fill="#b30000" fill-opacity="0.3" stroke="#b30000" stroke-opacity="0.55" stroke-width="0.8"/>
<rect x="794.12" y="439.90" width="1.3" height="24.50" fill="#b30000" fill-opacity="0.3" stroke="#b30000" stroke-opacity="0.55" stroke-width="0.8"/>
<rect x="797.43" y="437.40" width="1.3" height="27.00" fill="#b30000" fill-opacity="0.3" stroke="#b30000" stroke-opacity="0.55" stroke-width="0.8"/>
<rect x="800.74" y="433.40" width="1.3" height="31.00" fill="#4fae00" fill-opacity="0.3" stroke="#4fae00" stroke-opacity="0.55" stroke-width="0.8"/>
<rect x="804.04" y="430.40" width="1.3" height="34.00" fill="#4fae00" fill-opacity="0.3" stroke="#4fae00" stroke-opacity="0.55" stroke-width="0.8"/>
<rect x="807.35" y="436.90" width="1.3" height="27.50" fill="#4fae00" fill-opacity="0.3" stroke="#4fae00" stroke-opacity="0.55" stroke-width="0.8"/>
<rect x="810.66" y="425.40" width="1.3" height="39.00" fill="#4fae00" fill-opacity="0.3" stroke="#4fae00" stroke-opacity="0.55" stroke-width="0.8"/>
<rect x="813.97" y="439.15" width="1.3" height="25.25" fill="#b30000" fill-opacity="0.3" stroke="#b30000" stroke-opacity="0.55" stroke-width="0.8"/>
<rect x="817.27" y="439.90" width="1.3" height="24.50" fill="#4fae00" fill-opacity="0.3" stroke="#4fae00" stroke-opacity="0.55" stroke-width="0.8"/>
<rect x="820.58" y="441.65" width="1.3" height="22.75" fill="#b30000" fill-opacity="0.3" stroke="#b30000" stroke-opacity="0.55" stroke-width="0.8"/>
<rect x="823.89" y="442.40" width="1.3" height="22.00" fill="#4fae00" fill-opacity="0.3" stroke="#4fae00" stroke-opacity="0.55" stroke-width="0.8"/>
<rect x="827.19" y="444.65" width="1.3" height="19.75" fill="#b30000" fill-opacity="0.3" stroke="#b30000" stroke-opacity="0.55" stroke-width="0.8"/>
<rect x="830.50" y="437.90" width="1.3" height="26.50" fill="#4fae00" fill-opacity="0.3" stroke="#4fae00" stroke-opacity="0.55" stroke-width="0.8"/>
<rect x="833.81" y="437.40" width="1.3" height="27.00" fill="#4fae00" fill-opacity="0.3" stroke="#4fae00" stroke-opacity="0.55" stroke-width="0.8"/>
<rect x="837.11" y="438.90" width="1.3" height="25.50" fill="#b30000" fill-opacity="0.3" stroke="#b30000" stroke-opacity="0.55" stroke-width="0.8"/>
<line x1="4.40" y1="392.25" x2="4.40" y2="414.75" stroke="#4fae00" stroke-width="1" stroke-opacity="0.85"/>
<rect x="3.10" y="403.50" width="2.6" height="10.00" rx="1.20" fill="#4fae00"/>
<line x1="7.71" y1="381.00" x2="7.71" y2="397.25" stroke="#4fae00" stroke-width="1" stroke-opacity="0.85"/>
<rect x="6.41" y="382.25" width="2.6" height="13.75" rx="1.20" fill="#4fae00"/>
<line x1="11.01" y1="358.00" x2="11.01" y2="382.25" stroke="#4fae00" stroke-width="1" stroke-opacity="0.85"/>
<rect x="9.71" y="360.50" width="2.6" height="20.50" rx="1.20" fill="#4fae00"/>
<line x1="14.32" y1="359.75" x2="14.32" y2="368.50" stroke="#b30000" stroke-width="1" stroke-opacity="0.85"/>
<rect x="13.02" y="363.00" width="2.6" height="3.00" rx="1.20" fill="#b30000"/>
<line x1="17.63" y1="354.75" x2="17.63" y2="364.75" stroke="#4fae00" stroke-width="1" stroke-opacity="0.85"/>
<rect x="16.33" y="356.00" width="2.6" height="6.25" rx="1.20" fill="#4fae00"/>
<line x1="20.94" y1="344.75" x2="20.94" y2="349.75" stroke="#4fae00" stroke-width="1" stroke-opacity="0.85"/>
<rect x="19.64" y="346.75" width="2.6" height="1.75" rx="0.80" fill="#4fae00"/>
<line x1="24.24" y1="336.00" x2="24.24" y2="349.75" stroke="#4fae00" stroke-width="1" stroke-opacity="0.85"/>
<rect x="22.94" y="337.25" width="2.6" height="11.25" rx="1.20" fill="#4fae00"/>
<line x1="27.55" y1="333.00" x2="27.55" y2="346.00" stroke="#4fae00" stroke-width="1" stroke-opacity="0.85"/>
<rect x="26.25" y="333.50" width="2.6" height="10.00" rx="1.20" fill="#4fae00"/>
<line x1="30.86" y1="327.25" x2="30.86" y2="334.75" stroke="#4fae00" stroke-width="1" stroke-opacity="0.85"/>
<rect x="29.56" y="328.50" width="2.6" height="5.00" rx="1.20" fill="#4fae00"/>
<line x1="34.16" y1="329.75" x2="34.16" y2="341.00" stroke="#b30000" stroke-width="1" stroke-opacity="0.85"/>
<rect x="32.86" y="332.25" width="2.6" height="6.25" rx="1.20" fill="#b30000"/>
<line x1="37.47" y1="326.00" x2="37.47" y2="333.00" stroke="#4fae00" stroke-width="1" stroke-opacity="0.85"/>
<rect x="36.17" y="327.25" width="2.6" height="5.00" rx="1.20" fill="#4fae00"/>
<line x1="40.78" y1="322.25" x2="40.78" y2="328.50" stroke="#4fae00" stroke-width="1" stroke-opacity="0.85"/>
<rect x="39.48" y="323.00" width="2.6" height="4.25" rx="1.20" fill="#4fae00"/>
<line x1="44.08" y1="321.00" x2="44.08" y2="332.25" stroke="#b30000" stroke-width="1" stroke-opacity="0.85"/>
<rect x="42.78" y="324.75" width="2.6" height="6.25" rx="1.20" fill="#b30000"/>
<line x1="47.39" y1="328.50" x2="47.39" y2="334.75" stroke="#b30000" stroke-width="1" stroke-opacity="0.85"/>
<rect x="46.09" y="329.75" width="2.6" height="3.75" rx="1.20" fill="#b30000"/>
<line x1="50.70" y1="323.00" x2="50.70" y2="333.00" stroke="#4fae00" stroke-width="1" stroke-opacity="0.85"/>
<rect x="49.40" y="323.50" width="2.6" height="8.75" rx="1.20" fill="#4fae00"/>
<line x1="54.00" y1="319.75" x2="54.00" y2="334.75" stroke="#b30000" stroke-width="1" stroke-opacity="0.85"/>
<rect x="52.70" y="321.00" width="2.6" height="12.50" rx="1.20" fill="#b30000"/>
<line x1="57.31" y1="320.50" x2="57.31" y2="333.00" stroke="#4fae00" stroke-width="1" stroke-opacity="0.85"/>
<rect x="56.01" y="321.00" width="2.6" height="11.25" rx="1.20" fill="#4fae00"/>
<line x1="60.62" y1="318.00" x2="60.62" y2="323.50" stroke="#4fae00" stroke-width="1" stroke-opacity="0.85"/>
<rect x="59.32" y="320.00" width="2.6" height="1.20" rx="0.55" fill="#4fae00"/>
<line x1="63.93" y1="315.50" x2="63.93" y2="324.00" stroke="#4fae00" stroke-width="1" stroke-opacity="0.85"/>
<rect x="62.63" y="319.25" width="2.6" height="1.20" rx="0.55" fill="#4fae00"/>
<line x1="67.23" y1="337.25" x2="67.23" y2="347.25" stroke="#b30000" stroke-width="1" stroke-opacity="0.85"/>
<rect x="65.93" y="338.00" width="2.6" height="5.50" rx="1.20" fill="#b30000"/>
<line x1="70.54" y1="337.25" x2="70.54" y2="360.50" stroke="#b30000" stroke-width="1" stroke-opacity="0.85"/>
<rect x="69.24" y="339.75" width="2.6" height="12.50" rx="1.20" fill="#b30000"/>
<line x1="73.85" y1="347.25" x2="73.85" y2="359.75" stroke="#b30000" stroke-width="1" stroke-opacity="0.85"/>
<rect x="72.55" y="348.50" width="2.6" height="10.00" rx="1.20" fill="#b30000"/>
<line x1="77.15" y1="344.75" x2="77.15" y2="353.50" stroke="#b30000" stroke-width="1" stroke-opacity="0.85"/>
<rect x="75.85" y="346.00" width="2.6" height="6.25" rx="1.20" fill="#b30000"/>
<line x1="80.46" y1="353.00" x2="80.46" y2="371.00" stroke="#b30000" stroke-width="1" stroke-opacity="0.85"/>
<rect x="79.16" y="354.00" width="2.6" height="10.75" rx="1.20" fill="#b30000"/>
<line x1="83.77" y1="358.50" x2="83.77" y2="371.00" stroke="#b30000" stroke-width="1" stroke-opacity="0.85"/>
<rect x="82.47" y="359.75" width="2.6" height="10.00" rx="1.20" fill="#b30000"/>
<line x1="87.08" y1="357.25" x2="87.08" y2="374.00" stroke="#4fae00" stroke-width="1" stroke-opacity="0.85"/>
<rect x="85.78" y="358.50" width="2.6" height="12.50" rx="1.20" fill="#4fae00"/>
<line x1="90.38" y1="343.50" x2="90.38" y2="353.50" stroke="#4fae00" stroke-width="1" stroke-opacity="0.85"/>
<rect x="89.08" y="349.25" width="2.6" height="1.25" rx="0.57" fill="#4fae00"/>
<line x1="93.69" y1="352.25" x2="93.69" y2="368.50" stroke="#b30000" stroke-width="1" stroke-opacity="0.85"/>
<rect x="92.39" y="353.50" width="2.6" height="13.75" rx="1.20" fill="#b30000"/>
<line x1="97.00" y1="368.50" x2="97.00" y2="379.75" stroke="#b30000" stroke-width="1" stroke-opacity="0.85"/>
<rect x="95.70" y="369.75" width="2.6" height="6.25" rx="1.20" fill="#b30000"/>
<line x1="100.30" y1="376.00" x2="100.30" y2="396.00" stroke="#b30000" stroke-width="1" stroke-opacity="0.85"/>
<rect x="99.00" y="382.25" width="2.6" height="11.25" rx="1.20" fill="#b30000"/>
<line x1="103.61" y1="372.25" x2="103.61" y2="386.00" stroke="#4fae00" stroke-width="1" stroke-opacity="0.85"/>
<rect x="102.31" y="379.75" width="2.6" height="5.00" rx="1.20" fill="#4fae00"/>
<line x1="106.92" y1="360.50" x2="106.92" y2="372.25" stroke="#4fae00" stroke-width="1" stroke-opacity="0.85"/>
<rect x="105.62" y="362.25" width="2.6" height="8.75" rx="1.20" fill="#4fae00"/>
<line x1="110.22" y1="368.00" x2="110.22" y2="374.75" stroke="#b30000" stroke-width="1" stroke-opacity="0.85"/>
<rect x="108.92" y="368.50" width="2.6" height="5.00" rx="1.20" fill="#b30000"/>
<line x1="113.53" y1="368.50" x2="113.53" y2="381.00" stroke="#b30000" stroke-width="1" stroke-opacity="0.85"/>
<rect x="112.23" y="369.75" width="2.6" height="10.00" rx="1.20" fill="#b30000"/>
<line x1="116.84" y1="378.50" x2="116.84" y2="394.00" stroke="#4fae00" stroke-width="1" stroke-opacity="0.85"/>
<rect x="115.54" y="379.75" width="2.6" height="12.50" rx="1.20" fill="#4fae00"/>
<line x1="120.15" y1="364.75" x2="120.15" y2="378.50" stroke="#4fae00" stroke-width="1" stroke-opacity="0.85"/>
<rect x="118.85" y="368.50" width="2.6" height="8.75" rx="1.20" fill="#4fae00"/>
<line x1="123.45" y1="363.00" x2="123.45" y2="374.00" stroke="#b30000" stroke-width="1" stroke-opacity="0.85"/>
<rect x="122.15" y="365.50" width="2.6" height="6.75" rx="1.20" fill="#b30000"/>
<line x1="126.76" y1="354.00" x2="126.76" y2="366.50" stroke="#4fae00" stroke-width="1" stroke-opacity="0.85"/>
<rect x="125.46" y="354.75" width="2.6" height="11.25" rx="1.20" fill="#4fae00"/>
<line x1="130.07" y1="348.50" x2="130.07" y2="354.00" stroke="#4fae00" stroke-width="1" stroke-opacity="0.85"/>
<rect x="128.77" y="351.00" width="2.6" height="2.00" rx="0.91" fill="#4fae00"/>
<line x1="133.37" y1="348.50" x2="133.37" y2="355.50" stroke="#b30000" stroke-width="1" stroke-opacity="0.85"/>
<rect x="132.07" y="352.25" width="2.6" height="1.25" rx="0.57" fill="#b30000"/>
<line x1="136.68" y1="353.00" x2="136.68" y2="360.50" stroke="#b30000" stroke-width="1" stroke-opacity="0.85"/>
<rect x="135.38" y="354.00" width="2.6" height="5.75" rx="1.20" fill="#b30000"/>
<line x1="139.99" y1="351.00" x2="139.99" y2="359.75" stroke="#4fae00" stroke-width="1" stroke-opacity="0.85"/>
<rect x="138.69" y="352.25" width="2.6" height="6.25" rx="1.20" fill="#4fae00"/>
<line x1="143.29" y1="353.50" x2="143.29" y2="367.25" stroke="#b30000" stroke-width="1" stroke-opacity="0.85"/>
<rect x="141.99" y="354.00" width="2.6" height="12.00" rx="1.20" fill="#b30000"/>
<line x1="146.60" y1="359.75" x2="146.60" y2="370.50" stroke="#b30000" stroke-width="1" stroke-opacity="0.85"/>
<rect x="145.30" y="361.50" width="2.6" height="5.75" rx="1.20" fill="#b30000"/>
<line x1="149.91" y1="369.75" x2="149.91" y2="380.50" stroke="#b30000" stroke-width="1" stroke-opacity="0.85"/>
<rect x="148.61" y="370.50" width="2.6" height="3.00" rx="1.20" fill="#b30000"/>
<line x1="153.22" y1="353.00" x2="153.22" y2="366.00" stroke="#4fae00" stroke-width="1" stroke-opacity="0.85"/>
<rect x="151.91" y="353.50" width="2.6" height="11.25" rx="1.20" fill="#4fae00"/>
<line x1="156.52" y1="344.75" x2="156.52" y2="359.75" stroke="#4fae00" stroke-width="1" stroke-opacity="0.85"/>
<rect x="155.22" y="346.00" width="2.6" height="12.50" rx="1.20" fill="#4fae00"/>
<line x1="159.83" y1="338.50" x2="159.83" y2="349.75" stroke="#b30000" stroke-width="1" stroke-opacity="0.85"/>
<rect x="158.53" y="339.75" width="2.6" height="8.75" rx="1.20" fill="#b30000"/>
<line x1="163.14" y1="340.50" x2="163.14" y2="347.25" stroke="#4fae00" stroke-width="1" stroke-opacity="0.85"/>
<rect x="161.84" y="342.25" width="2.6" height="3.75" rx="1.20" fill="#4fae00"/>
<line x1="166.44" y1="333.50" x2="166.44" y2="344.75" stroke="#4fae00" stroke-width="1" stroke-opacity="0.85"/>
<rect x="165.14" y="334.75" width="2.6" height="8.75" rx="1.20" fill="#4fae00"/>
<line x1="169.75" y1="331.00" x2="169.75" y2="336.00" stroke="#4fae00" stroke-width="1" stroke-opacity="0.85"/>
<rect x="168.45" y="333.00" width="2.6" height="1.20" rx="0.55" fill="#4fae00"/>
<line x1="173.06" y1="325.50" x2="173.06" y2="334.75" stroke="#4fae00" stroke-width="1" stroke-opacity="0.85"/>
<rect x="171.76" y="326.00" width="2.6" height="7.50" rx="1.20" fill="#4fae00"/>
<line x1="176.36" y1="325.50" x2="176.36" y2="332.25" stroke="#b30000" stroke-width="1" stroke-opacity="0.85"/>
<rect x="175.06" y="326.50" width="2.6" height="4.50" rx="1.20" fill="#b30000"/>
<line x1="179.67" y1="323.50" x2="179.67" y2="343.50" stroke="#b30000" stroke-width="1" stroke-opacity="0.85"/>
<rect x="178.37" y="327.25" width="2.6" height="7.50" rx="1.20" fill="#b30000"/>
<line x1="182.98" y1="321.00" x2="182.98" y2="339.00" stroke="#4fae00" stroke-width="1" stroke-opacity="0.85"/>
<rect x="181.68" y="322.25" width="2.6" height="16.25" rx="1.20" fill="#4fae00"/>
<line x1="186.28" y1="318.50" x2="186.28" y2="329.75" stroke="#b30000" stroke-width="1" stroke-opacity="0.85"/>
<rect x="184.98" y="327.25" width="2.6" height="1.25" rx="0.57" fill="#b30000"/>
<line x1="189.59" y1="315.50" x2="189.59" y2="332.25" stroke="#4fae00" stroke-width="1" stroke-opacity="0.85"/>
<rect x="188.29" y="316.00" width="2.6" height="11.25" rx="1.20" fill="#4fae00"/>
<line x1="192.90" y1="306.50" x2="192.90" y2="318.50" stroke="#4fae00" stroke-width="1" stroke-opacity="0.85"/>
<rect x="191.60" y="307.25" width="2.6" height="10.00" rx="1.20" fill="#4fae00"/>
<line x1="196.21" y1="303.50" x2="196.21" y2="310.50" stroke="#b30000" stroke-width="1" stroke-opacity="0.85"/>
<rect x="194.91" y="305.50" width="2.6" height="3.50" rx="1.20" fill="#b30000"/>
<line x1="199.51" y1="302.25" x2="199.51" y2="308.00" stroke="#4fae00" stroke-width="1" stroke-opacity="0.85"/>
<rect x="198.21" y="304.75" width="2.6" height="1.25" rx="0.57" fill="#4fae00"/>
<line x1="202.82" y1="302.50" x2="202.82" y2="310.00" stroke="#b30000" stroke-width="1" stroke-opacity="0.85"/>
<rect x="201.52" y="303.75" width="2.6" height="5.00" rx="1.20" fill="#b30000"/>
<line x1="206.13" y1="295.00" x2="206.13" y2="306.25" stroke="#4fae00" stroke-width="1" stroke-opacity="0.85"/>
<rect x="204.83" y="296.25" width="2.6" height="8.75" rx="1.20" fill="#4fae00"/>
<line x1="209.43" y1="287.50" x2="209.43" y2="298.75" stroke="#4fae00" stroke-width="1" stroke-opacity="0.85"/>
<rect x="208.13" y="288.75" width="2.6" height="7.50" rx="1.20" fill="#4fae00"/>
<line x1="212.74" y1="288.75" x2="212.74" y2="293.75" stroke="#b30000" stroke-width="1" stroke-opacity="0.85"/>
<rect x="211.44" y="290.00" width="2.6" height="2.00" rx="0.91" fill="#b30000"/>
<line x1="216.05" y1="287.00" x2="216.05" y2="295.50" stroke="#4fae00" stroke-width="1" stroke-opacity="0.85"/>
<rect x="214.75" y="288.00" width="2.6" height="6.50" rx="1.20" fill="#4fae00"/>
<line x1="219.35" y1="267.50" x2="219.35" y2="286.25" stroke="#4fae00" stroke-width="1" stroke-opacity="0.85"/>
<rect x="218.05" y="268.00" width="2.6" height="17.00" rx="1.20" fill="#4fae00"/>
<line x1="222.66" y1="262.50" x2="222.66" y2="276.25" stroke="#4fae00" stroke-width="1" stroke-opacity="0.85"/>
<rect x="221.36" y="267.00" width="2.6" height="1.75" rx="0.80" fill="#4fae00"/>
<line x1="225.97" y1="258.75" x2="225.97" y2="268.75" stroke="#4fae00" stroke-width="1" stroke-opacity="0.85"/>
<rect x="224.67" y="260.00" width="2.6" height="4.50" rx="1.20" fill="#4fae00"/>
<line x1="229.28" y1="264.50" x2="229.28" y2="277.50" stroke="#b30000" stroke-width="1" stroke-opacity="0.85"/>
<rect x="227.98" y="265.50" width="2.6" height="5.75" rx="1.20" fill="#b30000"/>
<line x1="232.58" y1="260.00" x2="232.58" y2="276.25" stroke="#4fae00" stroke-width="1" stroke-opacity="0.85"/>
<rect x="231.28" y="267.50" width="2.6" height="7.50" rx="1.20" fill="#4fae00"/>
<line x1="235.89" y1="262.00" x2="235.89" y2="271.25" stroke="#b30000" stroke-width="1" stroke-opacity="0.85"/>
<rect x="234.59" y="263.00" width="2.6" height="7.00" rx="1.20" fill="#b30000"/>
<line x1="239.20" y1="251.25" x2="239.20" y2="269.50" stroke="#4fae00" stroke-width="1" stroke-opacity="0.85"/>
<rect x="237.90" y="258.00" width="2.6" height="10.75" rx="1.20" fill="#4fae00"/>
<line x1="242.50" y1="248.75" x2="242.50" y2="258.75" stroke="#4fae00" stroke-width="1" stroke-opacity="0.85"/>
<rect x="241.20" y="253.25" width="2.6" height="1.25" rx="0.57" fill="#4fae00"/>
<line x1="245.81" y1="251.25" x2="245.81" y2="262.00" stroke="#b30000" stroke-width="1" stroke-opacity="0.85"/>
<rect x="244.51" y="253.75" width="2.6" height="4.25" rx="1.20" fill="#b30000"/>
<line x1="249.12" y1="247.50" x2="249.12" y2="262.50" stroke="#b30000" stroke-width="1" stroke-opacity="0.85"/>
<rect x="247.82" y="254.50" width="2.6" height="6.75" rx="1.20" fill="#b30000"/>
<line x1="252.43" y1="260.00" x2="252.43" y2="278.75" stroke="#b30000" stroke-width="1" stroke-opacity="0.85"/>
<rect x="251.12" y="263.75" width="2.6" height="7.50" rx="1.20" fill="#b30000"/>
<line x1="255.73" y1="253.75" x2="255.73" y2="272.50" stroke="#4fae00" stroke-width="1" stroke-opacity="0.85"/>
<rect x="254.43" y="263.75" width="2.6" height="5.00" rx="1.20" fill="#4fae00"/>
<line x1="259.04" y1="256.25" x2="259.04" y2="271.25" stroke="#4fae00" stroke-width="1" stroke-opacity="0.85"/>
<rect x="257.74" y="257.50" width="2.6" height="11.25" rx="1.20" fill="#4fae00"/>
<line x1="262.35" y1="240.00" x2="262.35" y2="249.50" stroke="#4fae00" stroke-width="1" stroke-opacity="0.85"/>
<rect x="261.05" y="240.50" width="2.6" height="8.25" rx="1.20" fill="#4fae00"/>
<line x1="265.65" y1="228.75" x2="265.65" y2="238.75" stroke="#4fae00" stroke-width="1" stroke-opacity="0.85"/>
<rect x="264.35" y="229.50" width="2.6" height="8.00" rx="1.20" fill="#4fae00"/>
<line x1="268.96" y1="229.50" x2="268.96" y2="237.50" stroke="#b30000" stroke-width="1" stroke-opacity="0.85"/>
<rect x="267.66" y="231.25" width="2.6" height="5.00" rx="1.20" fill="#b30000"/>
<line x1="272.27" y1="229.50" x2="272.27" y2="251.25" stroke="#b30000" stroke-width="1" stroke-opacity="0.85"/>
<rect x="270.97" y="230.50" width="2.6" height="10.75" rx="1.20" fill="#b30000"/>
<line x1="275.57" y1="228.00" x2="275.57" y2="248.75" stroke="#b30000" stroke-width="1" stroke-opacity="0.85"/>
<rect x="274.27" y="231.25" width="2.6" height="10.00" rx="1.20" fill="#b30000"/>
<line x1="278.88" y1="232.50" x2="278.88" y2="241.25" stroke="#4fae00" stroke-width="1" stroke-opacity="0.85"/>
<rect x="277.58" y="237.00" width="2.6" height="1.20" rx="0.55" fill="#4fae00"/>
<line x1="282.19" y1="240.00" x2="282.19" y2="247.50" stroke="#b30000" stroke-width="1" stroke-opacity="0.85"/>
<rect x="280.89" y="243.00" width="2.6" height="3.25" rx="1.20" fill="#b30000"/>
<line x1="285.49" y1="238.75" x2="285.49" y2="248.75" stroke="#b30000" stroke-width="1" stroke-opacity="0.85"/>
<rect x="284.19" y="240.50" width="2.6" height="5.75" rx="1.20" fill="#b30000"/>
<line x1="288.80" y1="237.00" x2="288.80" y2="246.25" stroke="#4fae00" stroke-width="1" stroke-opacity="0.85"/>
<rect x="287.50" y="238.00" width="2.6" height="7.00" rx="1.20" fill="#4fae00"/>
<line x1="292.11" y1="236.25" x2="292.11" y2="246.25" stroke="#b30000" stroke-width="1" stroke-opacity="0.85"/>
<rect x="290.81" y="240.00" width="2.6" height="1.25" rx="0.57" fill="#b30000"/>
<line x1="295.42" y1="229.50" x2="295.42" y2="240.00" stroke="#4fae00" stroke-width="1" stroke-opacity="0.85"/>
<rect x="294.12" y="230.00" width="2.6" height="8.75" rx="1.20" fill="#4fae00"/>
<line x1="298.72" y1="229.50" x2="298.72" y2="235.00" stroke="#b30000" stroke-width="1" stroke-opacity="0.85"/>
<rect x="297.42" y="230.50" width="2.6" height="3.25" rx="1.20" fill="#b30000"/>
<line x1="302.03" y1="223.75" x2="302.03" y2="233.75" stroke="#b30000" stroke-width="1" stroke-opacity="0.85"/>
<rect x="300.73" y="229.50" width="2.6" height="3.00" rx="1.20" fill="#b30000"/>
<line x1="305.34" y1="230.00" x2="305.34" y2="243.75" stroke="#b30000" stroke-width="1" stroke-opacity="0.85"/>
<rect x="304.04" y="231.25" width="2.6" height="10.00" rx="1.20" fill="#b30000"/>
<line x1="308.64" y1="232.50" x2="308.64" y2="241.25" stroke="#4fae00" stroke-width="1" stroke-opacity="0.85"/>
<rect x="307.34" y="233.75" width="2.6" height="6.25" rx="1.20" fill="#4fae00"/>
<line x1="311.95" y1="228.75" x2="311.95" y2="238.75" stroke="#4fae00" stroke-width="1" stroke-opacity="0.85"/>
<rect x="310.65" y="229.50" width="2.6" height="8.00" rx="1.20" fill="#4fae00"/>
<line x1="315.26" y1="218.75" x2="315.26" y2="231.25" stroke="#4fae00" stroke-width="1" stroke-opacity="0.85"/>
<rect x="313.96" y="219.50" width="2.6" height="10.50" rx="1.20" fill="#4fae00"/>
<line x1="318.56" y1="212.50" x2="318.56" y2="223.75" stroke="#4fae00" stroke-width="1" stroke-opacity="0.85"/>
<rect x="317.26" y="213.75" width="2.6" height="5.00" rx="1.20" fill="#4fae00"/>
<line x1="321.87" y1="217.00" x2="321.87" y2="225.00" stroke="#b30000" stroke-width="1" stroke-opacity="0.85"/>
<rect x="320.57" y="218.00" width="2.6" height="3.25" rx="1.20" fill="#b30000"/>
<line x1="325.18" y1="212.50" x2="325.18" y2="227.50" stroke="#b30000" stroke-width="1" stroke-opacity="0.85"/>
<rect x="323.88" y="222.00" width="2.6" height="4.25" rx="1.20" fill="#b30000"/>
<line x1="328.49" y1="204.50" x2="328.49" y2="233.75" stroke="#4fae00" stroke-width="1" stroke-opacity="0.85"/>
<rect x="327.19" y="207.00" width="2.6" height="25.50" rx="1.20" fill="#4fae00"/>
<line x1="331.79" y1="177.50" x2="331.79" y2="202.00" stroke="#4fae00" stroke-width="1" stroke-opacity="0.85"/>
<rect x="330.49" y="182.00" width="2.6" height="15.00" rx="1.20" fill="#4fae00"/>
<line x1="335.10" y1="177.50" x2="335.10" y2="188.75" stroke="#4fae00" stroke-width="1" stroke-opacity="0.85"/>
<rect x="333.80" y="179.50" width="2.6" height="8.00" rx="1.20" fill="#4fae00"/>
<line x1="338.41" y1="177.50" x2="338.41" y2="188.75" stroke="#b30000" stroke-width="1" stroke-opacity="0.85"/>
<rect x="337.11" y="179.50" width="2.6" height="8.50" rx="1.20" fill="#b30000"/>
<line x1="341.71" y1="181.25" x2="341.71" y2="195.00" stroke="#b30000" stroke-width="1" stroke-opacity="0.85"/>
<rect x="340.41" y="182.50" width="2.6" height="7.50" rx="1.20" fill="#b30000"/>
<line x1="345.02" y1="187.50" x2="345.02" y2="200.00" stroke="#b30000" stroke-width="1" stroke-opacity="0.85"/>
<rect x="343.72" y="192.50" width="2.6" height="6.25" rx="1.20" fill="#b30000"/>
<line x1="348.33" y1="193.75" x2="348.33" y2="206.25" stroke="#4fae00" stroke-width="1" stroke-opacity="0.85"/>
<rect x="347.03" y="197.00" width="2.6" height="3.00" rx="1.20" fill="#4fae00"/>
<line x1="351.63" y1="183.75" x2="351.63" y2="193.75" stroke="#4fae00" stroke-width="1" stroke-opacity="0.85"/>
<rect x="350.33" y="184.50" width="2.6" height="8.00" rx="1.20" fill="#4fae00"/>
<line x1="354.94" y1="180.00" x2="354.94" y2="191.25" stroke="#b30000" stroke-width="1" stroke-opacity="0.85"/>
<rect x="353.64" y="182.00" width="2.6" height="7.50" rx="1.20" fill="#b30000"/>
<line x1="358.25" y1="179.50" x2="358.25" y2="191.25" stroke="#b30000" stroke-width="1" stroke-opacity="0.85"/>
<rect x="356.95" y="185.50" width="2.6" height="4.50" rx="1.20" fill="#b30000"/>
<line x1="361.56" y1="185.00" x2="361.56" y2="195.50" stroke="#b30000" stroke-width="1" stroke-opacity="0.85"/>
<rect x="360.26" y="188.75" width="2.6" height="5.00" rx="1.20" fill="#b30000"/>
<line x1="364.86" y1="186.25" x2="364.86" y2="196.25" stroke="#b30000" stroke-width="1" stroke-opacity="0.85"/>
<rect x="363.56" y="191.25" width="2.6" height="2.50" rx="1.14" fill="#b30000"/>
<line x1="368.17" y1="187.50" x2="368.17" y2="202.00" stroke="#b30000" stroke-width="1" stroke-opacity="0.85"/>
<rect x="366.87" y="193.75" width="2.6" height="2.50" rx="1.14" fill="#b30000"/>
<line x1="371.48" y1="193.75" x2="371.48" y2="203.75" stroke="#4fae00" stroke-width="1" stroke-opacity="0.85"/>
<rect x="370.18" y="195.00" width="2.6" height="3.75" rx="1.20" fill="#4fae00"/>
<line x1="374.78" y1="188.75" x2="374.78" y2="205.50" stroke="#b30000" stroke-width="1" stroke-opacity="0.85"/>
<rect x="373.48" y="192.50" width="2.6" height="11.25" rx="1.20" fill="#b30000"/>
<line x1="378.09" y1="196.25" x2="378.09" y2="210.50" stroke="#b30000" stroke-width="1" stroke-opacity="0.85"/>
<rect x="376.79" y="198.75" width="2.6" height="8.75" rx="1.20" fill="#b30000"/>
<line x1="381.40" y1="202.00" x2="381.40" y2="215.00" stroke="#4fae00" stroke-width="1" stroke-opacity="0.85"/>
<rect x="380.10" y="203.75" width="2.6" height="2.50" rx="1.14" fill="#4fae00"/>
<line x1="384.70" y1="192.00" x2="384.70" y2="202.00" stroke="#4fae00" stroke-width="1" stroke-opacity="0.85"/>
<rect x="383.40" y="196.25" width="2.6" height="1.75" rx="0.80" fill="#4fae00"/>
<line x1="388.01" y1="178.75" x2="388.01" y2="190.00" stroke="#4fae00" stroke-width="1" stroke-opacity="0.85"/>
<rect x="386.71" y="180.00" width="2.6" height="6.25" rx="1.20" fill="#4fae00"/>
<line x1="391.32" y1="178.75" x2="391.32" y2="193.75" stroke="#4fae00" stroke-width="1" stroke-opacity="0.85"/>
<rect x="390.02" y="179.50" width="2.6" height="3.00" rx="1.20" fill="#4fae00"/>
<line x1="394.63" y1="181.25" x2="394.63" y2="197.50" stroke="#b30000" stroke-width="1" stroke-opacity="0.85"/>
<rect x="393.33" y="182.50" width="2.6" height="13.75" rx="1.20" fill="#b30000"/>
<line x1="397.93" y1="200.00" x2="397.93" y2="229.50" stroke="#b30000" stroke-width="1" stroke-opacity="0.85"/>
<rect x="396.63" y="207.50" width="2.6" height="7.00" rx="1.20" fill="#b30000"/>
<line x1="401.24" y1="204.50" x2="401.24" y2="215.00" stroke="#4fae00" stroke-width="1" stroke-opacity="0.85"/>
<rect x="399.94" y="210.00" width="2.6" height="3.00" rx="1.20" fill="#4fae00"/>
<line x1="404.55" y1="196.25" x2="404.55" y2="213.00" stroke="#4fae00" stroke-width="1" stroke-opacity="0.85"/>
<rect x="403.25" y="200.50" width="2.6" height="5.75" rx="1.20" fill="#4fae00"/>
<line x1="407.85" y1="193.00" x2="407.85" y2="201.25" stroke="#4fae00" stroke-width="1" stroke-opacity="0.85"/>
<rect x="406.55" y="197.00" width="2.6" height="3.00" rx="1.20" fill="#4fae00"/>
<line x1="411.16" y1="197.00" x2="411.16" y2="205.50" stroke="#b30000" stroke-width="1" stroke-opacity="0.85"/>
<rect x="409.86" y="198.00" width="2.6" height="4.50" rx="1.20" fill="#b30000"/>
<line x1="414.47" y1="207.00" x2="414.47" y2="218.75" stroke="#b30000" stroke-width="1" stroke-opacity="0.85"/>
<rect x="413.17" y="208.00" width="2.6" height="8.25" rx="1.20" fill="#b30000"/>
<line x1="417.77" y1="225.50" x2="417.77" y2="251.25" stroke="#b30000" stroke-width="1" stroke-opacity="0.85"/>
<rect x="416.47" y="227.50" width="2.6" height="22.50" rx="1.20" fill="#b30000"/>
<line x1="421.08" y1="238.75" x2="421.08" y2="248.00" stroke="#4fae00" stroke-width="1" stroke-opacity="0.85"/>
<rect x="419.78" y="242.50" width="2.6" height="4.50" rx="1.20" fill="#4fae00"/>
<line x1="424.39" y1="235.00" x2="424.39" y2="255.50" stroke="#b30000" stroke-width="1" stroke-opacity="0.85"/>
<rect x="423.09" y="241.25" width="2.6" height="12.50" rx="1.20" fill="#b30000"/>
<line x1="427.70" y1="228.75" x2="427.70" y2="257.00" stroke="#4fae00" stroke-width="1" stroke-opacity="0.85"/>
<rect x="426.40" y="231.25" width="2.6" height="21.25" rx="1.20" fill="#4fae00"/>
<line x1="431.00" y1="235.00" x2="431.00" y2="260.00" stroke="#b30000" stroke-width="1" stroke-opacity="0.85"/>
<rect x="429.70" y="236.25" width="2.6" height="13.75" rx="1.20" fill="#b30000"/>
<line x1="434.31" y1="227.50" x2="434.31" y2="247.50" stroke="#4fae00" stroke-width="1" stroke-opacity="0.85"/>
<rect x="433.01" y="232.50" width="2.6" height="13.75" rx="1.20" fill="#4fae00"/>
<line x1="437.62" y1="217.00" x2="437.62" y2="243.75" stroke="#4fae00" stroke-width="1" stroke-opacity="0.85"/>
<rect x="436.32" y="218.00" width="2.6" height="24.50" rx="1.20" fill="#4fae00"/>
<line x1="440.92" y1="207.00" x2="440.92" y2="215.00" stroke="#4fae00" stroke-width="1" stroke-opacity="0.85"/>
<rect x="439.62" y="210.50" width="2.6" height="2.50" rx="1.14" fill="#4fae00"/>
<line x1="444.23" y1="207.00" x2="444.23" y2="215.00" stroke="#4fae00" stroke-width="1" stroke-opacity="0.85"/>
<rect x="442.93" y="208.75" width="2.6" height="4.25" rx="1.20" fill="#4fae00"/>
<line x1="447.54" y1="202.50" x2="447.54" y2="220.00" stroke="#b30000" stroke-width="1" stroke-opacity="0.85"/>
<rect x="446.24" y="213.75" width="2.6" height="5.00" rx="1.20" fill="#b30000"/>
<line x1="450.84" y1="210.00" x2="450.84" y2="220.50" stroke="#b30000" stroke-width="1" stroke-opacity="0.85"/>
<rect x="449.54" y="211.25" width="2.6" height="7.50" rx="1.20" fill="#b30000"/>
<line x1="454.15" y1="204.50" x2="454.15" y2="216.25" stroke="#4fae00" stroke-width="1" stroke-opacity="0.85"/>
<rect x="452.85" y="207.00" width="2.6" height="6.00" rx="1.20" fill="#4fae00"/>
<line x1="457.46" y1="185.00" x2="457.46" y2="202.50" stroke="#4fae00" stroke-width="1" stroke-opacity="0.85"/>
<rect x="456.16" y="186.25" width="2.6" height="12.50" rx="1.20" fill="#4fae00"/>
<line x1="460.77" y1="181.25" x2="460.77" y2="194.50" stroke="#4fae00" stroke-width="1" stroke-opacity="0.85"/>
<rect x="459.47" y="182.50" width="2.6" height="6.25" rx="1.20" fill="#4fae00"/>
<line x1="464.07" y1="169.50" x2="464.07" y2="187.50" stroke="#4fae00" stroke-width="1" stroke-opacity="0.85"/>
<rect x="462.77" y="171.25" width="2.6" height="13.75" rx="1.20" fill="#4fae00"/>
<line x1="467.38" y1="165.00" x2="467.38" y2="172.50" stroke="#4fae00" stroke-width="1" stroke-opacity="0.85"/>
<rect x="466.08" y="168.00" width="2.6" height="2.00" rx="0.91" fill="#4fae00"/>
<line x1="470.69" y1="165.00" x2="470.69" y2="176.25" stroke="#b30000" stroke-width="1" stroke-opacity="0.85"/>
<rect x="469.39" y="166.25" width="2.6" height="7.50" rx="1.20" fill="#b30000"/>
<line x1="473.99" y1="160.00" x2="473.99" y2="175.00" stroke="#4fae00" stroke-width="1" stroke-opacity="0.85"/>
<rect x="472.69" y="161.25" width="2.6" height="8.75" rx="1.20" fill="#4fae00"/>
<line x1="477.30" y1="160.50" x2="477.30" y2="168.75" stroke="#b30000" stroke-width="1" stroke-opacity="0.85"/>
<rect x="476.00" y="162.50" width="2.6" height="4.50" rx="1.20" fill="#b30000"/>
<line x1="480.61" y1="164.50" x2="480.61" y2="175.00" stroke="#b30000" stroke-width="1" stroke-opacity="0.85"/>
<rect x="479.31" y="166.25" width="2.6" height="3.75" rx="1.20" fill="#b30000"/>
<line x1="483.91" y1="156.25" x2="483.91" y2="168.00" stroke="#4fae00" stroke-width="1" stroke-opacity="0.85"/>
<rect x="482.61" y="160.50" width="2.6" height="3.25" rx="1.20" fill="#4fae00"/>
<line x1="487.22" y1="112.00" x2="487.22" y2="145.00" stroke="#4fae00" stroke-width="1" stroke-opacity="0.85"/>
<rect x="485.92" y="120.50" width="2.6" height="23.25" rx="1.20" fill="#4fae00"/>
<line x1="490.53" y1="116.25" x2="490.53" y2="126.25" stroke="#4fae00" stroke-width="1" stroke-opacity="0.85"/>
<rect x="489.23" y="120.75" width="2.6" height="1.20" rx="0.55" fill="#4fae00"/>
<line x1="493.84" y1="92.50" x2="493.84" y2="118.75" stroke="#4fae00" stroke-width="1" stroke-opacity="0.85"/>
<rect x="492.54" y="93.00" width="2.6" height="25.00" rx="1.20" fill="#4fae00"/>
<line x1="497.14" y1="93.75" x2="497.14" y2="110.00" stroke="#b30000" stroke-width="1" stroke-opacity="0.85"/>
<rect x="495.84" y="94.50" width="2.6" height="8.00" rx="1.20" fill="#b30000"/>
<line x1="500.45" y1="88.00" x2="500.45" y2="98.75" stroke="#4fae00" stroke-width="1" stroke-opacity="0.85"/>
<rect x="499.15" y="88.75" width="2.6" height="9.25" rx="1.20" fill="#4fae00"/>
<line x1="503.76" y1="83.00" x2="503.76" y2="97.50" stroke="#4fae00" stroke-width="1" stroke-opacity="0.85"/>
<rect x="502.46" y="85.00" width="2.6" height="4.50" rx="1.20" fill="#4fae00"/>
<line x1="507.06" y1="77.00" x2="507.06" y2="100.00" stroke="#4fae00" stroke-width="1" stroke-opacity="0.85"/>
<rect x="505.76" y="78.00" width="2.6" height="11.50" rx="1.20" fill="#4fae00"/>
<line x1="510.37" y1="70.00" x2="510.37" y2="84.50" stroke="#b30000" stroke-width="1" stroke-opacity="0.85"/>
<rect x="509.07" y="71.25" width="2.6" height="8.75" rx="1.20" fill="#b30000"/>
<line x1="513.68" y1="73.75" x2="513.68" y2="84.50" stroke="#4fae00" stroke-width="1" stroke-opacity="0.85"/>
<rect x="512.38" y="75.00" width="2.6" height="2.50" rx="1.14" fill="#4fae00"/>
<line x1="516.99" y1="71.25" x2="516.99" y2="83.75" stroke="#b30000" stroke-width="1" stroke-opacity="0.85"/>
<rect x="515.69" y="76.25" width="2.6" height="4.25" rx="1.20" fill="#b30000"/>
<line x1="520.29" y1="83.75" x2="520.29" y2="99.50" stroke="#b30000" stroke-width="1" stroke-opacity="0.85"/>
<rect x="518.99" y="84.50" width="2.6" height="11.75" rx="1.20" fill="#b30000"/>
<line x1="523.60" y1="87.50" x2="523.60" y2="97.50" stroke="#4fae00" stroke-width="1" stroke-opacity="0.85"/>
<rect x="522.30" y="90.50" width="2.6" height="5.00" rx="1.20" fill="#4fae00"/>
<line x1="526.91" y1="76.25" x2="526.91" y2="87.50" stroke="#4fae00" stroke-width="1" stroke-opacity="0.85"/>
<rect x="525.61" y="77.00" width="2.6" height="9.25" rx="1.20" fill="#4fae00"/>
<line x1="530.21" y1="73.75" x2="530.21" y2="86.25" stroke="#b30000" stroke-width="1" stroke-opacity="0.85"/>
<rect x="528.91" y="74.50" width="2.6" height="5.00" rx="1.20" fill="#b30000"/>
<line x1="533.52" y1="65.00" x2="533.52" y2="82.00" stroke="#4fae00" stroke-width="1" stroke-opacity="0.85"/>
<rect x="532.22" y="68.00" width="2.6" height="12.50" rx="1.20" fill="#4fae00"/>
<line x1="536.83" y1="60.00" x2="536.83" y2="73.00" stroke="#b30000" stroke-width="1" stroke-opacity="0.85"/>
<rect x="535.53" y="68.75" width="2.6" height="2.50" rx="1.14" fill="#b30000"/>
<line x1="540.13" y1="60.00" x2="540.13" y2="75.50" stroke="#4fae00" stroke-width="1" stroke-opacity="0.85"/>
<rect x="538.83" y="62.50" width="2.6" height="11.25" rx="1.20" fill="#4fae00"/>
<line x1="543.44" y1="50.00" x2="543.44" y2="60.00" stroke="#4fae00" stroke-width="1" stroke-opacity="0.85"/>
<rect x="542.14" y="56.25" width="2.6" height="2.50" rx="1.14" fill="#4fae00"/>
<line x1="546.75" y1="35.50" x2="546.75" y2="68.00" stroke="#b30000" stroke-width="1" stroke-opacity="0.85"/>
<rect x="545.45" y="52.00" width="2.6" height="15.00" rx="1.20" fill="#b30000"/>
<line x1="550.05" y1="68.75" x2="550.05" y2="87.00" stroke="#b30000" stroke-width="1" stroke-opacity="0.85"/>
<rect x="548.75" y="73.75" width="2.6" height="3.25" rx="1.20" fill="#b30000"/>
<line x1="553.36" y1="72.50" x2="553.36" y2="86.25" stroke="#4fae00" stroke-width="1" stroke-opacity="0.85"/>
<rect x="552.06" y="73.75" width="2.6" height="4.25" rx="1.20" fill="#4fae00"/>
<line x1="556.67" y1="73.75" x2="556.67" y2="105.00" stroke="#b30000" stroke-width="1" stroke-opacity="0.85"/>
<rect x="555.37" y="84.50" width="2.6" height="15.50" rx="1.20" fill="#b30000"/>
<line x1="559.98" y1="70.00" x2="559.98" y2="84.50" stroke="#4fae00" stroke-width="1" stroke-opacity="0.85"/>
<rect x="558.68" y="77.50" width="2.6" height="5.50" rx="1.20" fill="#4fae00"/>
<line x1="563.28" y1="73.75" x2="563.28" y2="101.25" stroke="#b30000" stroke-width="1" stroke-opacity="0.85"/>
<rect x="561.98" y="82.00" width="2.6" height="14.25" rx="1.20" fill="#b30000"/>
<line x1="566.59" y1="68.75" x2="566.59" y2="101.25" stroke="#b30000" stroke-width="1" stroke-opacity="0.85"/>
<rect x="565.29" y="82.50" width="2.6" height="17.00" rx="1.20" fill="#b30000"/>
<line x1="569.90" y1="88.75" x2="569.90" y2="106.25" stroke="#b30000" stroke-width="1" stroke-opacity="0.85"/>
<rect x="568.60" y="98.00" width="2.6" height="2.50" rx="1.14" fill="#b30000"/>
<line x1="573.20" y1="90.00" x2="573.20" y2="137.50" stroke="#b30000" stroke-width="1" stroke-opacity="0.85"/>
<rect x="571.90" y="91.25" width="2.6" height="30.75" rx="1.20" fill="#b30000"/>
<line x1="576.51" y1="107.50" x2="576.51" y2="123.75" stroke="#4fae00" stroke-width="1" stroke-opacity="0.85"/>
<rect x="575.21" y="110.50" width="2.6" height="9.00" rx="1.20" fill="#4fae00"/>
<line x1="579.82" y1="80.50" x2="579.82" y2="95.00" stroke="#4fae00" stroke-width="1" stroke-opacity="0.85"/>
<rect x="578.52" y="82.50" width="2.6" height="11.25" rx="1.20" fill="#4fae00"/>
<line x1="583.12" y1="80.50" x2="583.12" y2="96.25" stroke="#4fae00" stroke-width="1" stroke-opacity="0.85"/>
<rect x="581.83" y="82.00" width="2.6" height="1.20" rx="0.55" fill="#4fae00"/>
<line x1="586.43" y1="82.00" x2="586.43" y2="91.25" stroke="#b30000" stroke-width="1" stroke-opacity="0.85"/>
<rect x="585.13" y="84.50" width="2.6" height="4.25" rx="1.20" fill="#b30000"/>
<line x1="589.74" y1="57.00" x2="589.74" y2="83.75" stroke="#4fae00" stroke-width="1" stroke-opacity="0.85"/>
<rect x="588.44" y="57.50" width="2.6" height="25.00" rx="1.20" fill="#4fae00"/>
<line x1="593.05" y1="55.00" x2="593.05" y2="70.00" stroke="#b30000" stroke-width="1" stroke-opacity="0.85"/>
<rect x="591.75" y="63.75" width="2.6" height="5.00" rx="1.20" fill="#b30000"/>
<line x1="596.35" y1="81.25" x2="596.35" y2="118.00" stroke="#b30000" stroke-width="1" stroke-opacity="0.85"/>
<rect x="595.05" y="88.00" width="2.6" height="16.50" rx="1.20" fill="#b30000"/>
<line x1="599.66" y1="82.50" x2="599.66" y2="116.25" stroke="#4fae00" stroke-width="1" stroke-opacity="0.85"/>
<rect x="598.36" y="83.75" width="2.6" height="20.00" rx="1.20" fill="#4fae00"/>
<line x1="602.97" y1="77.00" x2="602.97" y2="121.25" stroke="#b30000" stroke-width="1" stroke-opacity="0.85"/>
<rect x="601.67" y="78.00" width="2.6" height="37.00" rx="1.20" fill="#b30000"/>
<line x1="606.27" y1="115.50" x2="606.27" y2="140.00" stroke="#b30000" stroke-width="1" stroke-opacity="0.85"/>
<rect x="604.97" y="118.75" width="2.6" height="9.25" rx="1.20" fill="#b30000"/>
<line x1="609.58" y1="122.50" x2="609.58" y2="138.75" stroke="#b30000" stroke-width="1" stroke-opacity="0.85"/>
<rect x="608.28" y="130.00" width="2.6" height="2.50" rx="1.14" fill="#b30000"/>
<line x1="612.89" y1="106.25" x2="612.89" y2="132.00" stroke="#4fae00" stroke-width="1" stroke-opacity="0.85"/>
<rect x="611.59" y="107.00" width="2.6" height="14.25" rx="1.20" fill="#4fae00"/>
<line x1="616.19" y1="87.50" x2="616.19" y2="112.50" stroke="#4fae00" stroke-width="1" stroke-opacity="0.85"/>
<rect x="614.89" y="88.00" width="2.6" height="16.50" rx="1.20" fill="#4fae00"/>
<line x1="619.50" y1="78.75" x2="619.50" y2="91.25" stroke="#4fae00" stroke-width="1" stroke-opacity="0.85"/>
<rect x="618.20" y="83.00" width="2.6" height="7.00" rx="1.20" fill="#4fae00"/>
<line x1="622.81" y1="57.50" x2="622.81" y2="82.50" stroke="#4fae00" stroke-width="1" stroke-opacity="0.85"/>
<rect x="621.51" y="58.75" width="2.6" height="22.50" rx="1.20" fill="#4fae00"/>
<line x1="626.12" y1="54.50" x2="626.12" y2="66.25" stroke="#b30000" stroke-width="1" stroke-opacity="0.85"/>
<rect x="624.82" y="55.50" width="2.6" height="7.50" rx="1.20" fill="#b30000"/>
<line x1="629.42" y1="53.00" x2="629.42" y2="67.50" stroke="#4fae00" stroke-width="1" stroke-opacity="0.85"/>
<rect x="628.12" y="60.00" width="2.6" height="2.50" rx="1.14" fill="#4fae00"/>
<line x1="632.73" y1="56.25" x2="632.73" y2="70.50" stroke="#b30000" stroke-width="1" stroke-opacity="0.85"/>
<rect x="631.43" y="60.00" width="2.6" height="8.75" rx="1.20" fill="#b30000"/>
<line x1="636.04" y1="68.00" x2="636.04" y2="80.00" stroke="#b30000" stroke-width="1" stroke-opacity="0.85"/>
<rect x="634.74" y="70.00" width="2.6" height="8.75" rx="1.20" fill="#b30000"/>
<line x1="639.34" y1="73.75" x2="639.34" y2="99.50" stroke="#b30000" stroke-width="1" stroke-opacity="0.85"/>
<rect x="638.04" y="81.25" width="2.6" height="2.50" rx="1.14" fill="#b30000"/>
<line x1="642.65" y1="81.25" x2="642.65" y2="111.25" stroke="#b30000" stroke-width="1" stroke-opacity="0.85"/>
<rect x="641.35" y="83.00" width="2.6" height="19.00" rx="1.20" fill="#b30000"/>
<line x1="645.96" y1="111.25" x2="645.96" y2="143.75" stroke="#b30000" stroke-width="1" stroke-opacity="0.85"/>
<rect x="644.66" y="112.00" width="2.6" height="30.50" rx="1.20" fill="#b30000"/>
<line x1="649.26" y1="136.25" x2="649.26" y2="158.75" stroke="#b30000" stroke-width="1" stroke-opacity="0.85"/>
<rect x="647.97" y="151.25" width="2.6" height="2.50" rx="1.14" fill="#b30000"/>
<line x1="652.57" y1="143.00" x2="652.57" y2="162.50" stroke="#4fae00" stroke-width="1" stroke-opacity="0.85"/>
<rect x="651.27" y="150.00" width="2.6" height="1.25" rx="0.57" fill="#4fae00"/>
<line x1="655.88" y1="148.75" x2="655.88" y2="180.50" stroke="#4fae00" stroke-width="1" stroke-opacity="0.85"/>
<rect x="654.58" y="149.50" width="2.6" height="16.00" rx="1.20" fill="#4fae00"/>
<line x1="659.19" y1="142.50" x2="659.19" y2="163.75" stroke="#4fae00" stroke-width="1" stroke-opacity="0.85"/>
<rect x="657.89" y="147.50" width="2.6" height="5.00" rx="1.20" fill="#4fae00"/>
<line x1="662.49" y1="120.50" x2="662.49" y2="141.25" stroke="#4fae00" stroke-width="1" stroke-opacity="0.85"/>
<rect x="661.19" y="132.50" width="2.6" height="5.00" rx="1.20" fill="#4fae00"/>
<line x1="665.80" y1="128.75" x2="665.80" y2="182.50" stroke="#b30000" stroke-width="1" stroke-opacity="0.85"/>
<rect x="664.50" y="129.50" width="2.6" height="51.75" rx="1.20" fill="#b30000"/>
<line x1="669.11" y1="162.00" x2="669.11" y2="183.75" stroke="#4fae00" stroke-width="1" stroke-opacity="0.85"/>
<rect x="667.81" y="163.00" width="2.6" height="19.50" rx="1.20" fill="#4fae00"/>
<line x1="672.41" y1="164.50" x2="672.41" y2="190.50" stroke="#b30000" stroke-width="1" stroke-opacity="0.85"/>
<rect x="671.11" y="182.50" width="2.6" height="5.00" rx="1.20" fill="#b30000"/>
<line x1="675.72" y1="151.25" x2="675.72" y2="187.00" stroke="#4fae00" stroke-width="1" stroke-opacity="0.85"/>
<rect x="674.42" y="175.50" width="2.6" height="10.00" rx="1.20" fill="#4fae00"/>
<line x1="679.03" y1="158.75" x2="679.03" y2="192.00" stroke="#b30000" stroke-width="1" stroke-opacity="0.85"/>
<rect x="677.73" y="166.25" width="2.6" height="20.00" rx="1.20" fill="#b30000"/>
<line x1="682.33" y1="183.75" x2="682.33" y2="210.00" stroke="#b30000" stroke-width="1" stroke-opacity="0.85"/>
<rect x="681.03" y="187.00" width="2.6" height="21.75" rx="1.20" fill="#b30000"/>
<line x1="685.64" y1="205.50" x2="685.64" y2="273.00" stroke="#4fae00" stroke-width="1" stroke-opacity="0.85"/>
<rect x="684.34" y="207.00" width="2.6" height="14.25" rx="1.20" fill="#4fae00"/>
<line x1="688.95" y1="213.00" x2="688.95" y2="243.75" stroke="#b30000" stroke-width="1" stroke-opacity="0.85"/>
<rect x="687.65" y="222.50" width="2.6" height="11.25" rx="1.20" fill="#b30000"/>
<line x1="692.26" y1="169.50" x2="692.26" y2="218.75" stroke="#4fae00" stroke-width="1" stroke-opacity="0.85"/>
<rect x="690.96" y="170.50" width="2.6" height="37.50" rx="1.20" fill="#4fae00"/>
<line x1="695.56" y1="170.00" x2="695.56" y2="205.00" stroke="#4fae00" stroke-width="1" stroke-opacity="0.85"/>
<rect x="694.26" y="187.50" width="2.6" height="8.75" rx="1.20" fill="#4fae00"/>
<line x1="698.87" y1="168.75" x2="698.87" y2="213.75" stroke="#4fae00" stroke-width="1" stroke-opacity="0.85"/>
<rect x="697.57" y="169.50" width="2.6" height="25.50" rx="1.20" fill="#4fae00"/>
<line x1="702.18" y1="156.25" x2="702.18" y2="175.00" stroke="#4fae00" stroke-width="1" stroke-opacity="0.85"/>
<rect x="700.88" y="160.50" width="2.6" height="6.50" rx="1.20" fill="#4fae00"/>
<line x1="705.48" y1="161.25" x2="705.48" y2="179.50" stroke="#b30000" stroke-width="1" stroke-opacity="0.85"/>
<rect x="704.18" y="162.50" width="2.6" height="5.00" rx="1.20" fill="#b30000"/>
<line x1="708.79" y1="147.00" x2="708.79" y2="166.25" stroke="#4fae00" stroke-width="1" stroke-opacity="0.85"/>
<rect x="707.49" y="152.50" width="2.6" height="12.00" rx="1.20" fill="#4fae00"/>
<line x1="712.10" y1="160.00" x2="712.10" y2="196.25" stroke="#b30000" stroke-width="1" stroke-opacity="0.85"/>
<rect x="710.80" y="165.50" width="2.6" height="26.50" rx="1.20" fill="#b30000"/>
<line x1="715.40" y1="168.00" x2="715.40" y2="196.25" stroke="#4fae00" stroke-width="1" stroke-opacity="0.85"/>
<rect x="714.11" y="177.00" width="2.6" height="18.00" rx="1.20" fill="#4fae00"/>
<line x1="718.71" y1="171.25" x2="718.71" y2="196.25" stroke="#b30000" stroke-width="1" stroke-opacity="0.85"/>
<rect x="717.41" y="176.25" width="2.6" height="17.50" rx="1.20" fill="#b30000"/>
<line x1="722.02" y1="178.00" x2="722.02" y2="196.25" stroke="#4fae00" stroke-width="1" stroke-opacity="0.85"/>
<rect x="720.72" y="181.25" width="2.6" height="10.75" rx="1.20" fill="#4fae00"/>
<line x1="725.33" y1="157.50" x2="725.33" y2="172.50" stroke="#4fae00" stroke-width="1" stroke-opacity="0.85"/>
<rect x="724.03" y="159.50" width="2.6" height="4.25" rx="1.20" fill="#4fae00"/>
<line x1="728.63" y1="167.00" x2="728.63" y2="193.75" stroke="#b30000" stroke-width="1" stroke-opacity="0.85"/>
<rect x="727.33" y="183.75" width="2.6" height="5.00" rx="1.20" fill="#b30000"/>
<line x1="731.94" y1="183.00" x2="731.94" y2="213.75" stroke="#b30000" stroke-width="1" stroke-opacity="0.85"/>
<rect x="730.64" y="185.50" width="2.6" height="26.50" rx="1.20" fill="#b30000"/>
<line x1="735.25" y1="207.00" x2="735.25" y2="223.75" stroke="#b30000" stroke-width="1" stroke-opacity="0.85"/>
<rect x="733.95" y="212.50" width="2.6" height="3.75" rx="1.20" fill="#b30000"/>
<line x1="738.55" y1="193.75" x2="738.55" y2="205.00" stroke="#4fae00" stroke-width="1" stroke-opacity="0.85"/>
<rect x="737.25" y="194.50" width="2.6" height="1.20" rx="0.55" fill="#4fae00"/>
<line x1="741.86" y1="193.00" x2="741.86" y2="210.00" stroke="#b30000" stroke-width="1" stroke-opacity="0.85"/>
<rect x="740.56" y="197.50" width="2.6" height="3.75" rx="1.20" fill="#b30000"/>
<line x1="745.17" y1="206.25" x2="745.17" y2="227.50" stroke="#b30000" stroke-width="1" stroke-opacity="0.85"/>
<rect x="743.87" y="207.50" width="2.6" height="18.75" rx="1.20" fill="#b30000"/>
<line x1="748.47" y1="216.25" x2="748.47" y2="238.75" stroke="#b30000" stroke-width="1" stroke-opacity="0.85"/>
<rect x="747.17" y="217.50" width="2.6" height="17.50" rx="1.20" fill="#b30000"/>
<line x1="751.78" y1="223.75" x2="751.78" y2="246.25" stroke="#b30000" stroke-width="1" stroke-opacity="0.85"/>
<rect x="750.48" y="233.75" width="2.6" height="11.25" rx="1.20" fill="#b30000"/>
<line x1="755.09" y1="222.50" x2="755.09" y2="261.25" stroke="#b30000" stroke-width="1" stroke-opacity="0.85"/>
<rect x="753.79" y="227.50" width="2.6" height="32.50" rx="1.20" fill="#b30000"/>
<line x1="758.40" y1="212.00" x2="758.40" y2="288.00" stroke="#4fae00" stroke-width="1" stroke-opacity="0.85"/>
<rect x="757.10" y="213.00" width="2.6" height="73.25" rx="1.20" fill="#4fae00"/>
<line x1="761.70" y1="203.75" x2="761.70" y2="223.75" stroke="#4fae00" stroke-width="1" stroke-opacity="0.85"/>
<rect x="760.40" y="205.00" width="2.6" height="8.75" rx="1.20" fill="#4fae00"/>
<line x1="765.01" y1="198.75" x2="765.01" y2="218.75" stroke="#4fae00" stroke-width="1" stroke-opacity="0.85"/>
<rect x="763.71" y="200.00" width="2.6" height="12.50" rx="1.20" fill="#4fae00"/>
<line x1="768.32" y1="196.25" x2="768.32" y2="221.25" stroke="#b30000" stroke-width="1" stroke-opacity="0.85"/>
<rect x="767.02" y="208.00" width="2.6" height="4.50" rx="1.20" fill="#b30000"/>
<line x1="771.62" y1="191.25" x2="771.62" y2="216.25" stroke="#4fae00" stroke-width="1" stroke-opacity="0.85"/>
<rect x="770.32" y="195.00" width="2.6" height="13.75" rx="1.20" fill="#4fae00"/>
<line x1="774.93" y1="186.25" x2="774.93" y2="214.50" stroke="#b30000" stroke-width="1" stroke-opacity="0.85"/>
<rect x="773.63" y="186.75" width="2.6" height="22.75" rx="1.20" fill="#b30000"/>
<line x1="778.24" y1="210.00" x2="778.24" y2="237.00" stroke="#b30000" stroke-width="1" stroke-opacity="0.85"/>
<rect x="776.94" y="213.75" width="2.6" height="15.00" rx="1.20" fill="#b30000"/>
<line x1="781.54" y1="230.00" x2="781.54" y2="265.50" stroke="#b30000" stroke-width="1" stroke-opacity="0.85"/>
<rect x="780.25" y="232.50" width="2.6" height="32.00" rx="1.20" fill="#b30000"/>
<line x1="784.85" y1="248.00" x2="784.85" y2="292.50" stroke="#b30000" stroke-width="1" stroke-opacity="0.85"/>
<rect x="783.55" y="268.00" width="2.6" height="6.50" rx="1.20" fill="#b30000"/>
<line x1="788.16" y1="230.00" x2="788.16" y2="258.00" stroke="#4fae00" stroke-width="1" stroke-opacity="0.85"/>
<rect x="786.86" y="233.00" width="2.6" height="15.75" rx="1.20" fill="#4fae00"/>
<line x1="791.47" y1="238.75" x2="791.47" y2="258.75" stroke="#b30000" stroke-width="1" stroke-opacity="0.85"/>
<rect x="790.17" y="242.50" width="2.6" height="8.75" rx="1.20" fill="#b30000"/>
<line x1="794.77" y1="230.00" x2="794.77" y2="262.50" stroke="#b30000" stroke-width="1" stroke-opacity="0.85"/>
<rect x="793.47" y="235.00" width="2.6" height="25.00" rx="1.20" fill="#b30000"/>
<line x1="798.08" y1="243.75" x2="798.08" y2="273.75" stroke="#b30000" stroke-width="1" stroke-opacity="0.85"/>
<rect x="796.78" y="260.00" width="2.6" height="12.00" rx="1.20" fill="#b30000"/>
<line x1="801.39" y1="235.50" x2="801.39" y2="264.50" stroke="#4fae00" stroke-width="1" stroke-opacity="0.85"/>
<rect x="800.09" y="237.00" width="2.6" height="21.75" rx="1.20" fill="#4fae00"/>
<line x1="804.69" y1="213.00" x2="804.69" y2="250.00" stroke="#4fae00" stroke-width="1" stroke-opacity="0.85"/>
<rect x="803.39" y="213.75" width="2.6" height="22.50" rx="1.20" fill="#4fae00"/>
<line x1="808.00" y1="210.00" x2="808.00" y2="231.25" stroke="#4fae00" stroke-width="1" stroke-opacity="0.85"/>
<rect x="806.70" y="211.25" width="2.6" height="6.25" rx="1.20" fill="#4fae00"/>
<line x1="811.31" y1="193.00" x2="811.31" y2="220.00" stroke="#4fae00" stroke-width="1" stroke-opacity="0.85"/>
<rect x="810.01" y="194.50" width="2.6" height="15.50" rx="1.20" fill="#4fae00"/>
<line x1="814.62" y1="194.50" x2="814.62" y2="212.50" stroke="#b30000" stroke-width="1" stroke-opacity="0.85"/>
<rect x="813.32" y="197.50" width="2.6" height="2.50" rx="1.14" fill="#b30000"/>
<line x1="817.92" y1="180.00" x2="817.92" y2="197.50" stroke="#4fae00" stroke-width="1" stroke-opacity="0.85"/>
<rect x="816.62" y="182.00" width="2.6" height="14.25" rx="1.20" fill="#4fae00"/>
<line x1="821.23" y1="186.25" x2="821.23" y2="203.00" stroke="#b30000" stroke-width="1" stroke-opacity="0.85"/>
<rect x="819.93" y="193.75" width="2.6" height="4.25" rx="1.20" fill="#b30000"/>
<line x1="824.54" y1="182.00" x2="824.54" y2="201.25" stroke="#4fae00" stroke-width="1" stroke-opacity="0.85"/>
<rect x="823.24" y="183.00" width="2.6" height="15.75" rx="1.20" fill="#4fae00"/>
<line x1="827.84" y1="178.00" x2="827.84" y2="198.00" stroke="#b30000" stroke-width="1" stroke-opacity="0.85"/>
<rect x="826.54" y="179.50" width="2.6" height="5.00" rx="1.20" fill="#b30000"/>
<line x1="831.15" y1="160.50" x2="831.15" y2="182.50" stroke="#4fae00" stroke-width="1" stroke-opacity="0.85"/>
<rect x="829.85" y="161.25" width="2.6" height="20.75" rx="1.20" fill="#4fae00"/>
<line x1="834.46" y1="145.00" x2="834.46" y2="166.25" stroke="#4fae00" stroke-width="1" stroke-opacity="0.85"/>
<rect x="833.16" y="146.25" width="2.6" height="5.00" rx="1.20" fill="#4fae00"/>
<line x1="837.76" y1="144.50" x2="837.76" y2="158.75" stroke="#b30000" stroke-width="1" stroke-opacity="0.85"/>
<rect x="836.46" y="150.00" width="2.6" height="2.00" rx="0.91" fill="#b30000"/>
<path d="M4.40,404.00 C5.50,401.33 6.60,399.37 7.71,396.00 C8.81,391.70 9.91,384.88 11.01,381.00 C12.12,378.62 13.22,379.12 14.32,377.25 C15.42,374.54 16.53,371.21 17.63,367.25 C18.73,362.46 19.83,356.17 20.94,351.00 C22.04,346.17 23.14,339.08 24.24,337.25 C25.34,338.42 26.45,344.83 27.55,346.00 C28.65,343.50 29.75,329.75 30.86,327.25 C31.96,329.08 33.06,339.17 34.16,341.00 C35.27,339.67 36.37,333.83 37.47,331.00 C38.57,328.83 39.67,327.29 40.78,326.00 C41.88,325.21 42.98,324.92 44.08,324.75 C45.19,326.08 46.29,333.42 47.39,334.75 C48.49,334.52 49.60,333.23 50.70,333.00 C51.80,334.23 52.90,341.02 54.00,342.25 C55.11,340.58 56.21,333.04 57.31,329.75 C58.41,327.62 59.52,326.50 60.62,326.00 C61.72,326.25 62.82,327.25 63.93,327.88 C65.03,328.50 66.13,328.94 67.23,329.75 C68.34,330.81 69.44,331.62 70.54,333.50 C71.64,336.21 72.74,342.17 73.85,343.50 C74.95,343.00 76.05,340.25 77.15,339.75 C78.26,343.92 79.36,366.83 80.46,371.00 C81.56,369.67 82.67,363.83 83.77,361.00 C84.87,358.83 85.97,357.42 87.08,356.00 C88.18,354.92 89.28,353.83 90.38,353.50 C91.48,356.00 92.59,366.50 93.69,372.25 C94.79,377.33 95.89,381.49 97.00,386.00 C98.10,390.41 99.20,397.27 100.30,399.00 C101.41,397.10 102.51,389.45 103.61,384.75 C104.71,380.12 105.81,372.83 106.92,371.00 C108.02,372.00 109.12,375.88 110.22,378.50 C111.33,381.29 112.43,385.63 113.53,387.25 C114.63,387.80 115.74,387.90 116.84,388.00 C117.94,386.07 119.04,375.43 120.15,373.50 C121.25,374.77 122.35,381.73 123.45,383.00 C124.55,381.80 125.66,375.50 126.76,374.00 C127.86,373.63 128.96,373.57 130.07,373.50 C131.17,373.83 132.27,374.67 133.37,376.00 C134.48,378.00 135.58,381.25 136.68,383.50 C137.78,385.42 138.88,387.13 139.99,388.50 C141.09,389.47 142.19,390.23 143.29,390.50 C144.40,389.90 145.50,386.60 146.60,386.00 C147.70,387.17 148.81,393.58 149.91,394.75 C151.01,392.92 152.11,383.58 153.22,381.00 C154.32,380.08 155.42,380.42 156.52,379.75 C157.62,378.75 158.73,377.25 159.83,376.00 C160.93,374.75 162.03,372.75 163.14,372.25 C164.24,373.08 165.34,377.67 166.44,378.50 C167.55,377.33 168.65,373.54 169.75,369.75 C170.85,364.79 171.95,354.58 173.06,352.25 C174.16,352.92 175.26,356.58 176.36,357.25 C177.47,356.25 178.57,352.12 179.67,349.75 C180.77,347.54 181.88,344.33 182.98,343.50 C184.08,344.67 185.18,351.08 186.28,352.25 C187.39,350.42 188.49,342.46 189.59,338.50 C190.69,335.38 191.80,332.00 192.90,331.00 C194.00,331.27 195.10,332.38 196.21,333.00 C197.31,333.55 198.41,334.00 199.51,334.50 C200.62,335.00 201.72,335.80 202.82,336.00 C203.92,334.17 205.02,326.33 206.13,322.25 C207.23,318.83 208.33,315.79 209.43,313.50 C210.54,312.04 211.64,311.81 212.74,311.00 C213.84,310.23 214.95,310.40 216.05,308.75 C217.15,305.23 218.25,297.92 219.35,292.50 C220.46,287.08 221.56,281.22 222.66,276.25 C223.76,271.88 224.87,266.07 225.97,264.50 C227.07,265.90 228.17,273.60 229.28,275.00 C230.38,273.07 231.48,262.43 232.58,260.50 C233.69,261.27 234.79,265.48 235.89,266.25 C236.99,264.58 238.09,258.49 239.20,253.75 C240.30,248.24 241.40,237.93 242.50,235.50 C243.61,236.10 244.71,237.45 245.81,240.00 C246.91,243.95 248.02,249.50 249.12,255.00 C250.22,261.17 251.32,272.33 252.43,275.00 C253.53,272.17 254.63,256.58 255.73,253.75 C256.83,254.08 257.94,255.92 259.04,256.25 C260.14,254.92 261.24,249.21 262.35,246.25 C263.45,243.79 264.55,241.76 265.65,240.00 C266.76,238.68 267.86,237.40 268.96,237.00 C270.06,238.90 271.16,246.97 272.27,251.25 C273.37,254.89 274.47,259.48 275.57,260.75 C276.68,260.34 277.78,258.62 278.88,257.70 C279.98,256.90 281.09,255.88 282.19,255.60 C283.29,255.88 284.39,257.42 285.49,257.70 C286.60,256.27 287.70,248.43 288.80,247.00 C289.90,247.23 291.01,248.52 292.11,248.75 C293.21,248.75 294.31,248.75 295.42,248.75 C296.52,249.25 297.62,251.33 298.72,252.50 C299.83,253.58 300.93,254.65 302.03,255.50 C303.13,256.15 304.23,256.80 305.34,257.00 C306.44,256.67 307.54,256.33 308.64,254.50 C309.75,250.40 310.85,240.18 311.95,235.00 C313.05,231.59 314.16,230.78 315.26,228.75 C316.36,226.78 317.46,223.77 318.56,223.00 C319.67,224.27 320.77,228.28 321.87,232.50 C322.97,238.12 324.08,249.83 325.18,252.50 C326.28,252.17 327.38,251.83 328.49,250.00 C329.59,246.33 330.69,236.97 331.79,233.75 C332.90,232.47 334.00,232.23 335.10,232.00 C336.20,232.40 337.30,233.55 338.41,235.00 C339.51,237.05 340.61,240.50 341.71,242.50 C342.82,243.83 343.92,244.67 345.02,245.00 C346.12,244.17 347.23,242.96 348.33,238.75 C349.43,231.71 350.53,214.92 351.63,211.25 C352.74,212.15 353.84,217.10 354.94,218.00 C356.04,217.27 357.15,214.28 358.25,212.50 C359.35,210.78 360.45,209.04 361.56,207.50 C362.66,206.12 363.76,206.12 364.86,203.75 C365.97,199.88 367.07,190.75 368.17,188.75 C369.27,189.92 370.37,194.58 371.48,197.50 C372.58,200.42 373.68,201.28 374.78,206.25 C375.89,213.95 376.99,231.60 378.09,235.50 C379.19,235.17 380.30,233.33 381.40,233.00 C382.50,234.10 383.60,240.15 384.70,241.25 C385.81,240.58 386.91,236.92 388.01,236.25 C389.11,236.42 390.22,236.58 391.32,237.50 C392.42,240.25 393.52,246.88 394.63,252.50 C395.73,258.96 396.83,270.92 397.93,273.75 C399.04,273.42 400.14,273.08 401.24,271.25 C402.34,267.58 403.44,259.34 404.55,255.00 C405.65,252.09 406.75,250.23 407.85,249.50 C408.96,249.50 410.06,249.50 411.16,249.50 C412.26,250.57 413.37,253.38 414.47,257.50 C415.57,263.55 416.67,277.00 417.77,280.00 C418.88,279.33 419.98,275.67 421.08,275.00 C422.18,276.00 423.29,281.50 424.39,282.50 C425.49,281.67 426.59,277.08 427.70,276.25 C428.80,279.02 429.90,294.23 431.00,297.00 C432.11,295.40 433.21,288.43 434.31,285.00 C435.41,282.34 436.51,280.83 437.62,278.75 C438.72,276.67 439.82,273.33 440.92,272.50 C442.03,272.77 443.13,273.98 444.23,274.50 C445.33,274.82 446.44,274.63 447.54,275.00 C448.64,276.47 449.74,281.46 450.84,283.75 C451.95,285.21 453.05,285.92 454.15,286.25 C455.25,283.75 456.36,272.75 457.46,267.50 C458.56,263.58 459.66,261.92 460.77,258.75 C461.87,255.25 462.97,251.12 464.07,247.50 C465.18,244.04 466.28,240.21 467.38,237.50 C468.48,235.63 469.58,234.25 470.69,233.75 C471.79,233.75 472.89,233.75 473.99,233.75 C475.10,234.32 476.20,236.98 477.30,238.00 C478.40,238.55 479.51,238.65 480.61,238.75 C481.71,238.25 482.81,235.50 483.91,235.00 C485.02,235.27 486.12,236.73 487.22,237.00 C488.32,234.00 489.43,217.50 490.53,214.50 C491.63,216.73 492.73,226.84 493.84,231.25 C494.94,234.09 496.04,235.58 497.14,236.25 C498.25,235.42 499.35,232.33 500.45,230.00 C501.55,227.33 502.65,222.42 503.76,221.25 C504.86,221.58 505.96,223.42 507.06,223.75 C508.17,223.65 509.27,223.10 510.37,223.00 C511.47,223.43 512.58,225.82 513.68,226.25 C514.78,226.08 515.88,225.17 516.99,225.00 C518.09,227.33 519.19,239.87 520.29,242.50 C521.39,242.87 522.50,242.93 523.60,243.00 C524.70,241.43 525.80,233.87 526.91,231.25 C528.01,229.97 529.11,230.41 530.21,229.50 C531.32,228.16 532.42,227.62 533.52,224.50 C534.62,219.45 535.72,212.30 536.83,205.00 C537.93,196.63 539.03,185.27 540.13,177.50 C541.24,171.60 542.34,167.45 543.44,164.00 C544.54,161.95 545.65,162.00 546.75,161.00 C547.85,160.00 548.95,158.94 550.05,158.00 C551.16,157.14 552.26,155.92 553.36,155.60 C554.46,159.82 555.57,183.03 556.67,187.25 C557.77,183.75 558.87,169.72 559.98,161.00 C561.08,152.31 562.18,138.47 563.28,135.00 C564.39,135.33 565.49,136.29 566.59,137.50 C567.69,139.21 568.79,141.07 569.90,143.75 C571.00,147.23 572.10,154.37 573.20,156.00 C574.31,151.87 575.41,135.73 576.51,125.00 C577.61,113.73 578.72,99.79 579.82,90.00 C580.92,82.71 582.02,75.92 583.12,73.75 C584.23,74.08 585.33,75.92 586.43,76.25 C587.53,72.25 588.64,50.25 589.74,46.25 C590.84,48.42 591.94,57.21 593.05,62.50 C594.15,67.62 595.25,75.50 596.35,77.50 C597.46,73.43 598.56,51.07 599.66,47.00 C600.76,53.23 601.86,83.77 602.97,93.75 C604.07,98.33 605.17,97.92 606.27,100.00 C607.38,102.08 608.48,105.42 609.58,106.25 C610.68,103.42 611.79,91.33 612.89,85.00 C613.99,79.67 615.09,74.78 616.19,71.25 C617.30,69.12 618.40,70.38 619.50,68.00 C620.60,62.48 621.71,44.82 622.81,41.25 C623.91,42.08 625.01,46.67 626.12,47.50 C627.22,47.33 628.32,46.42 629.42,46.25 C630.53,47.42 631.63,52.76 632.73,55.00 C633.83,56.34 634.93,56.73 636.04,57.00 C637.14,53.47 638.24,34.03 639.34,30.50 C640.45,32.10 641.55,36.58 642.65,42.50 C643.75,50.99 644.86,64.58 645.96,73.75 C647.06,81.25 648.16,90.00 649.26,92.50 C650.37,92.43 651.47,92.27 652.57,92.00 C653.67,91.60 654.78,91.60 655.88,90.50 C656.98,87.37 658.08,77.78 659.19,73.75 C660.29,71.55 661.39,71.15 662.49,70.75 C663.60,73.38 664.70,87.87 665.80,90.50 C666.90,89.93 668.00,86.82 669.11,86.25 C670.21,88.75 671.31,98.38 672.41,105.00 C673.52,112.12 674.62,121.00 675.72,127.50 C676.82,132.67 677.93,135.83 679.03,140.00 C680.13,144.17 681.23,148.83 682.33,152.50 C683.44,155.50 684.54,157.45 685.64,160.00 C686.74,162.62 687.85,166.03 688.95,168.00 C690.05,169.10 691.15,168.85 692.26,169.50 C693.36,170.35 694.46,172.10 695.56,172.50 C696.67,162.83 697.77,119.42 698.87,100.00 C699.97,86.92 701.07,78.33 702.18,75.00 C703.28,75.10 704.38,75.65 705.48,75.75 C706.59,74.82 707.69,69.68 708.79,68.75 C709.89,71.08 711.00,81.79 712.10,86.25 C713.20,88.88 714.30,88.67 715.40,90.00 C716.51,91.42 717.61,93.90 718.71,94.50 C719.81,91.73 720.92,79.34 722.02,73.75 C723.12,69.93 724.22,67.25 725.33,66.25 C726.43,69.25 727.53,81.08 728.63,88.75 C729.74,96.66 730.84,109.77 731.94,113.00 C733.04,112.77 734.14,112.53 735.25,111.25 C736.35,107.03 737.45,90.67 738.55,87.50 C739.66,87.67 740.76,87.83 741.86,88.75 C742.96,92.50 744.07,104.87 745.17,111.25 C746.27,116.12 747.37,117.93 748.47,122.50 C749.58,128.18 750.68,134.95 751.78,142.00 C752.88,149.78 753.99,163.67 755.09,167.00 C756.19,164.90 757.29,156.30 758.40,151.25 C759.50,146.47 760.60,140.53 761.70,137.50 C762.81,136.03 763.91,135.77 765.01,135.50 C766.11,137.03 767.21,145.47 768.32,147.00 C769.42,144.33 770.52,129.67 771.62,127.00 C772.73,127.33 773.83,127.67 774.93,129.50 C776.03,133.90 777.14,144.05 778.24,151.25 C779.34,158.38 780.44,166.49 781.54,172.50 C782.65,177.07 783.75,181.60 784.85,183.00 C785.95,178.53 787.06,153.97 788.16,149.50 C789.26,152.90 790.36,166.55 791.47,175.00 C792.57,183.38 793.67,191.54 794.77,200.00 C795.88,208.63 796.98,222.75 798.08,226.25 C799.18,221.75 800.28,202.62 801.39,192.50 C802.49,183.88 803.59,176.00 804.69,170.00 C805.80,166.00 806.90,165.88 808.00,162.50 C809.10,157.96 810.21,152.49 811.31,146.25 C812.41,138.91 813.51,128.64 814.62,121.75 C815.72,116.56 816.82,113.54 817.92,110.00 C819.02,106.96 820.13,106.07 821.23,102.00 C822.33,96.07 823.43,85.63 824.54,80.00 C825.64,76.63 826.74,76.67 827.84,75.00 C828.95,73.33 830.05,73.22 831.15,70.00 C832.25,64.72 833.35,52.23 834.46,49.50 C835.56,50.40 836.66,54.00 837.76,56.25" fill="none" stroke="#7082e5" stroke-width="1.0" stroke-linejoin="round"/>
<g font-family="'Liberation Sans', sans-serif" font-size="12.8" fill="#383838">
<text x="844.5" y="27.40" textLength="24.2" lengthAdjust="spacingAndGlyphs">50%</text>
<text x="844.5" y="65.40" textLength="24.2" lengthAdjust="spacingAndGlyphs">45%</text>
<text x="844.5" y="103.40" textLength="24.2" lengthAdjust="spacingAndGlyphs">40%</text>
<text x="844.5" y="141.45" textLength="24.2" lengthAdjust="spacingAndGlyphs">35%</text>
<text x="844.5" y="179.70" textLength="24.2" lengthAdjust="spacingAndGlyphs">30%</text>
<text x="844.5" y="217.90" textLength="24.2" lengthAdjust="spacingAndGlyphs">25%</text>
<text x="844.5" y="256.90" textLength="24.2" lengthAdjust="spacingAndGlyphs">20%</text>
<text x="844.5" y="294.90" textLength="24.2" lengthAdjust="spacingAndGlyphs">15%</text>
<text x="844.5" y="333.40" textLength="24.2" lengthAdjust="spacingAndGlyphs">10%</text>
<text x="844.5" y="371.10" textLength="16.8" lengthAdjust="spacingAndGlyphs">5%</text>
<text x="844.5" y="409.30" textLength="16.8" lengthAdjust="spacingAndGlyphs">0%</text>
<text x="844.5" y="447.30" textLength="21.6" lengthAdjust="spacingAndGlyphs">-5%</text>
<text x="207.30" y="478.7" textLength="14.0" lengthAdjust="spacingAndGlyphs">Jul</text>
<text x="346.70" y="478.7" textLength="20.4" lengthAdjust="spacingAndGlyphs">Sep</text>
<text x="484.75" y="478.7" textLength="22.5" lengthAdjust="spacingAndGlyphs">Nov</text>
<text x="613.75" y="478.7" textLength="48.1" lengthAdjust="spacingAndGlyphs">Jan 2022</text>
<text x="756.50" y="478.7" textLength="20.5" lengthAdjust="spacingAndGlyphs">Mar</text>
</g>
</svg>
<div class="lg" style="left:10px;width:93px"><i style="left:4px;top:5px;width:18px;height:18px;border-radius:4px;background:#b30000"></i><span style="left:26.5px">MSFT</span><svg class="ic" style="left:65.5px" viewBox="-12 -12 24 24" width="24" height="24"><path d="M-2.81,-6.79 L-2.81,-6.79 Q-1.98,-7.13 -1.88,-8.03 L-1.83,-8.45 Q-1.73,-9.34 -0.83,-9.34 L0.83,-9.34 Q1.73,-9.34 1.83,-8.45 L1.88,-8.03 Q1.98,-7.13 2.81,-6.79 L2.81,-6.79 Q3.64,-6.44 4.35,-7.00 L4.68,-7.27 Q5.38,-7.83 6.02,-7.19 L7.19,-6.02 Q7.83,-5.38 7.27,-4.68 L7.00,-4.35 Q6.44,-3.64 6.79,-2.81 L6.79,-2.81 Q7.13,-1.98 8.03,-1.88 L8.45,-1.83 Q9.34,-1.73 9.34,-0.83 L9.34,0.83 Q9.34,1.73 8.45,1.83 L8.03,1.88 Q7.13,1.98 6.79,2.81 L6.79,2.81 Q6.44,3.64 7.00,4.35 L7.27,4.68 Q7.83,5.38 7.19,6.02 L6.02,7.19 Q5.38,7.83 4.68,7.27 L4.35,7.00 Q3.64,6.44 2.81,6.79 L2.81,6.79 Q1.98,7.13 1.88,8.03 L1.83,8.45 Q1.73,9.34 0.83,9.34 L-0.83,9.34 Q-1.73,9.34 -1.83,8.45 L-1.88,8.03 Q-1.98,7.13 -2.81,6.79 L-2.81,6.79 Q-3.64,6.44 -4.35,7.00 L-4.68,7.27 Q-5.38,7.83 -6.02,7.19 L-7.19,6.02 Q-7.83,5.38 -7.27,4.68 L-7.00,4.35 Q-6.44,3.64 -6.79,2.81 L-6.79,2.81 Q-7.13,1.98 -8.03,1.88 L-8.45,1.83 Q-9.34,1.73 -9.34,0.83 L-9.34,-0.83 Q-9.34,-1.73 -8.45,-1.83 L-8.03,-1.88 Q-7.13,-1.98 -6.79,-2.81 L-6.79,-2.81 Q-6.44,-3.64 -7.00,-4.35 L-7.27,-4.68 Q-7.83,-5.38 -7.19,-6.02 L-6.02,-7.19 Q-5.38,-7.83 -4.68,-7.27 L-4.35,-7.00 Q-3.64,-6.44 -2.81,-6.79 Z" fill="none" stroke="#8e8e8e" stroke-width="0.9" stroke-linejoin="round"/><circle r="3.7" fill="none" stroke="#8e8e8e" stroke-width="0.9"/></svg></div>
<div class="lg" style="left:109px;width:105px"><i style="left:5px;top:5px;width:17px;height:18px;border-radius:4px;background:#dc7f7f"></i><span style="left:26.8px;transform:scaleX(1.02)">Volume</span><svg class="ic" style="left:77px" viewBox="-12 -12 24 24" width="24" height="24"><path d="M-2.81,-6.79 L-2.81,-6.79 Q-1.98,-7.13 -1.88,-8.03 L-1.83,-8.45 Q-1.73,-9.34 -0.83,-9.34 L0.83,-9.34 Q1.73,-9.34 1.83,-8.45 L1.88,-8.03 Q1.98,-7.13 2.81,-6.79 L2.81,-6.79 Q3.64,-6.44 4.35,-7.00 L4.68,-7.27 Q5.38,-7.83 6.02,-7.19 L7.19,-6.02 Q7.83,-5.38 7.27,-4.68 L7.00,-4.35 Q6.44,-3.64 6.79,-2.81 L6.79,-2.81 Q7.13,-1.98 8.03,-1.88 L8.45,-1.83 Q9.34,-1.73 9.34,-0.83 L9.34,0.83 Q9.34,1.73 8.45,1.83 L8.03,1.88 Q7.13,1.98 6.79,2.81 L6.79,2.81 Q6.44,3.64 7.00,4.35 L7.27,4.68 Q7.83,5.38 7.19,6.02 L6.02,7.19 Q5.38,7.83 4.68,7.27 L4.35,7.00 Q3.64,6.44 2.81,6.79 L2.81,6.79 Q1.98,7.13 1.88,8.03 L1.83,8.45 Q1.73,9.34 0.83,9.34 L-0.83,9.34 Q-1.73,9.34 -1.83,8.45 L-1.88,8.03 Q-1.98,7.13 -2.81,6.79 L-2.81,6.79 Q-3.64,6.44 -4.35,7.00 L-4.68,7.27 Q-5.38,7.83 -6.02,7.19 L-7.19,6.02 Q-7.83,5.38 -7.27,4.68 L-7.00,4.35 Q-6.44,3.64 -6.79,2.81 L-6.79,2.81 Q-7.13,1.98 -8.03,1.88 L-8.45,1.83 Q-9.34,1.73 -9.34,0.83 L-9.34,-0.83 Q-9.34,-1.73 -8.45,-1.83 L-8.03,-1.88 Q-7.13,-1.98 -6.79,-2.81 L-6.79,-2.81 Q-6.44,-3.64 -7.00,-4.35 L-7.27,-4.68 Q-7.83,-5.38 -7.19,-6.02 L-6.02,-7.19 Q-5.38,-7.83 -4.68,-7.27 L-4.35,-7.00 Q-3.64,-6.44 -2.81,-6.79 Z" fill="none" stroke="#8e8e8e" stroke-width="0.9" stroke-linejoin="round"/><circle r="3.7" fill="none" stroke="#8e8e8e" stroke-width="0.9"/></svg></div>
<div class="lg" style="left:219.5px;width:114px"><i style="left:4.5px;top:13.5px;width:16.5px;height:2px;background:#98a4ef"></i><span style="left:26px">AAPL</span><svg class="ic" style="left:62.6px" viewBox="-12 -12 24 24" width="24" height="24"><path d="M-2.81,-6.79 L-2.81,-6.79 Q-1.98,-7.13 -1.88,-8.03 L-1.83,-8.45 Q-1.73,-9.34 -0.83,-9.34 L0.83,-9.34 Q1.73,-9.34 1.83,-8.45 L1.88,-8.03 Q1.98,-7.13 2.81,-6.79 L2.81,-6.79 Q3.64,-6.44 4.35,-7.00 L4.68,-7.27 Q5.38,-7.83 6.02,-7.19 L7.19,-6.02 Q7.83,-5.38 7.27,-4.68 L7.00,-4.35 Q6.44,-3.64 6.79,-2.81 L6.79,-2.81 Q7.13,-1.98 8.03,-1.88 L8.45,-1.83 Q9.34,-1.73 9.34,-0.83 L9.34,0.83 Q9.34,1.73 8.45,1.83 L8.03,1.88 Q7.13,1.98 6.79,2.81 L6.79,2.81 Q6.44,3.64 7.00,4.35 L7.27,4.68 Q7.83,5.38 7.19,6.02 L6.02,7.19 Q5.38,7.83 4.68,7.27 L4.35,7.00 Q3.64,6.44 2.81,6.79 L2.81,6.79 Q1.98,7.13 1.88,8.03 L1.83,8.45 Q1.73,9.34 0.83,9.34 L-0.83,9.34 Q-1.73,9.34 -1.83,8.45 L-1.88,8.03 Q-1.98,7.13 -2.81,6.79 L-2.81,6.79 Q-3.64,6.44 -4.35,7.00 L-4.68,7.27 Q-5.38,7.83 -6.02,7.19 L-7.19,6.02 Q-7.83,5.38 -7.27,4.68 L-7.00,4.35 Q-6.44,3.64 -6.79,2.81 L-6.79,2.81 Q-7.13,1.98 -8.03,1.88 L-8.45,1.83 Q-9.34,1.73 -9.34,0.83 L-9.34,-0.83 Q-9.34,-1.73 -8.45,-1.83 L-8.03,-1.88 Q-7.13,-1.98 -6.79,-2.81 L-6.79,-2.81 Q-6.44,-3.64 -7.00,-4.35 L-7.27,-4.68 Q-7.83,-5.38 -7.19,-6.02 L-6.02,-7.19 Q-5.38,-7.83 -4.68,-7.27 L-4.35,-7.00 Q-3.64,-6.44 -2.81,-6.79 Z" fill="none" stroke="#8e8e8e" stroke-width="0.9" stroke-linejoin="round"/><circle r="3.7" fill="none" stroke="#8e8e8e" stroke-width="0.9"/></svg><svg class="ic" style="left:85.6px" viewBox="-12 -12 24 24" width="24" height="24"><circle r="9.3" fill="none" stroke="#8e8e8e" stroke-width="0.9"/><path d="M-3.9,-3.9 L3.9,3.9 M3.9,-3.9 L-3.9,3.9" stroke="#8e8e8e" stroke-width="0.9" fill="none" stroke-linecap="round"/></svg></div>
</body></html>
